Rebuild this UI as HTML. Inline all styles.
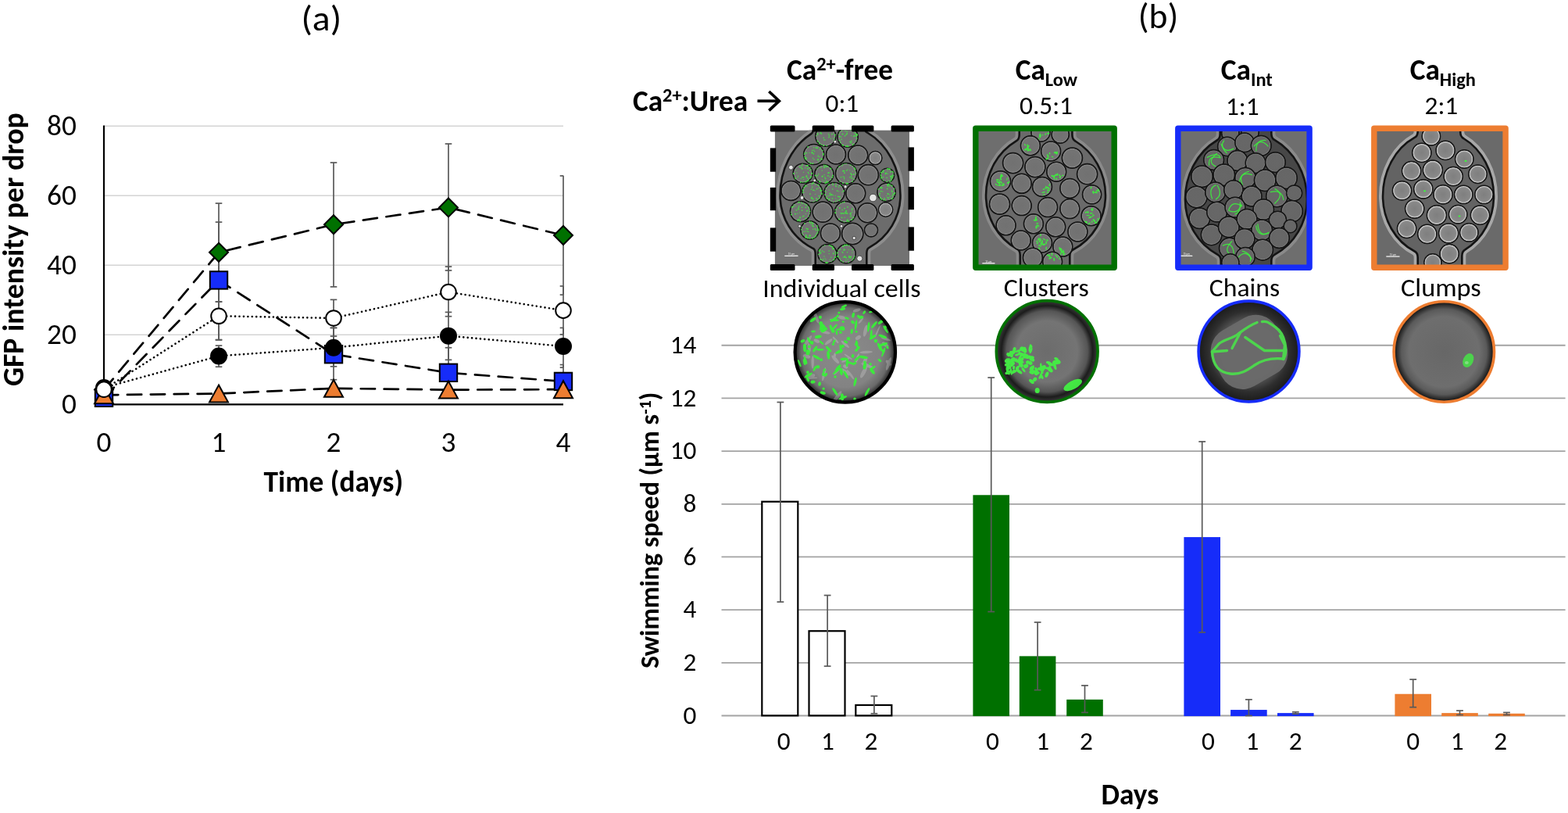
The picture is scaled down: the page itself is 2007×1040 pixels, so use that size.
<!DOCTYPE html><html><head><meta charset="utf-8"><title>Figure</title><style>html,body{margin:0;padding:0;background:#fff;width:2007px;height:1040px;overflow:hidden}svg{display:block}</style></head><body>
<svg width="2007" height="1040" viewBox="0 0 2007 1040" font-family="Carlito, 'Liberation Sans', sans-serif">
<rect width="2007" height="1040" fill="#fff"/>
<line x1="923.5" x2="2003.6" y1="915.5" y2="915.5" stroke="#a3a3a3" stroke-width="1.8"/>
<line x1="923.5" x2="2003.6" y1="847.82" y2="847.82" stroke="#a3a3a3" stroke-width="1.8"/>
<line x1="923.5" x2="2003.6" y1="780.14" y2="780.14" stroke="#a3a3a3" stroke-width="1.8"/>
<line x1="923.5" x2="2003.6" y1="712.46" y2="712.46" stroke="#a3a3a3" stroke-width="1.8"/>
<line x1="923.5" x2="2003.6" y1="644.78" y2="644.78" stroke="#a3a3a3" stroke-width="1.8"/>
<line x1="923.5" x2="2003.6" y1="577.1" y2="577.1" stroke="#a3a3a3" stroke-width="1.8"/>
<line x1="923.5" x2="2003.6" y1="509.42" y2="509.42" stroke="#a3a3a3" stroke-width="1.8"/>
<line x1="923.5" x2="2003.6" y1="441.74" y2="441.74" stroke="#a3a3a3" stroke-width="1.8"/>
<rect x="975.3" y="641.73" width="46" height="273.67" fill="#fff" stroke="#000" stroke-width="2.2"/>
<g stroke="#595959" stroke-width="1.7"><line x1="998.9" x2="998.9" y1="514.5" y2="769.99"/><line x1="994.5" x2="1003.3" y1="514.5" y2="514.5"/><line x1="994.5" x2="1003.3" y1="769.99" y2="769.99"/></g>
<text x="1003.3" y="959.4" font-size="33.3" text-anchor="middle" textLength="16.88" lengthAdjust="spacingAndGlyphs">0</text>
<rect x="1035.5" y="807.21" width="46" height="108.19" fill="#fff" stroke="#000" stroke-width="2.2"/>
<g stroke="#595959" stroke-width="1.7"><line x1="1059.1" x2="1059.1" y1="761.53" y2="852.22"/><line x1="1054.7" x2="1063.5" y1="761.53" y2="761.53"/><line x1="1054.7" x2="1063.5" y1="852.22" y2="852.22"/></g>
<text x="1059.5" y="959.4" font-size="33.3" text-anchor="middle" textLength="16.88" lengthAdjust="spacingAndGlyphs">1</text>
<rect x="1095.3" y="901.96" width="46" height="13.44" fill="#fff" stroke="#000" stroke-width="2.2"/>
<g stroke="#595959" stroke-width="1.7"><line x1="1118.9" x2="1118.9" y1="890.46" y2="912.79"/><line x1="1114.5" x2="1123.3" y1="890.46" y2="890.46"/><line x1="1114.5" x2="1123.3" y1="912.79" y2="912.79"/></g>
<text x="1115" y="959.4" font-size="33.3" text-anchor="middle" textLength="16.88" lengthAdjust="spacingAndGlyphs">2</text>
<rect x="1245.4" y="633.27" width="46.6" height="282.83" fill="#007000"/>
<g stroke="#595959" stroke-width="1.7"><line x1="1268.7" x2="1268.7" y1="483.02" y2="782.51"/><line x1="1264.3" x2="1273.1" y1="483.02" y2="483.02"/><line x1="1264.3" x2="1273.1" y1="782.51" y2="782.51"/></g>
<text x="1270.4" y="959.4" font-size="33.3" text-anchor="middle" textLength="16.88" lengthAdjust="spacingAndGlyphs">0</text>
<rect x="1304.8" y="839.36" width="46.6" height="76.74" fill="#007000"/>
<g stroke="#595959" stroke-width="1.7"><line x1="1328.1" x2="1328.1" y1="796.04" y2="882.68"/><line x1="1323.7" x2="1332.5" y1="796.04" y2="796.04"/><line x1="1323.7" x2="1332.5" y1="882.68" y2="882.68"/></g>
<text x="1334.6" y="959.4" font-size="33.3" text-anchor="middle" textLength="16.88" lengthAdjust="spacingAndGlyphs">1</text>
<rect x="1365.2" y="894.86" width="46.6" height="21.24" fill="#007000"/>
<g stroke="#595959" stroke-width="1.7"><line x1="1388.5" x2="1388.5" y1="876.92" y2="911.44"/><line x1="1384.1" x2="1392.9" y1="876.92" y2="876.92"/><line x1="1384.1" x2="1392.9" y1="911.44" y2="911.44"/></g>
<text x="1390.4" y="959.4" font-size="33.3" text-anchor="middle" textLength="16.88" lengthAdjust="spacingAndGlyphs">2</text>
<rect x="1515.4" y="687.08" width="46.6" height="229.02" fill="#162CF9"/>
<g stroke="#595959" stroke-width="1.7"><line x1="1538.7" x2="1538.7" y1="564.92" y2="808.9"/><line x1="1534.3" x2="1543.1" y1="564.92" y2="564.92"/><line x1="1534.3" x2="1543.1" y1="808.9" y2="808.9"/></g>
<text x="1546.4" y="959.4" font-size="33.3" text-anchor="middle" textLength="16.88" lengthAdjust="spacingAndGlyphs">0</text>
<rect x="1575.1" y="908.06" width="46.6" height="8.04" fill="#162CF9"/>
<g stroke="#595959" stroke-width="1.7"><line x1="1598.4" x2="1598.4" y1="894.86" y2="915.5"/><line x1="1594" x2="1602.8" y1="894.86" y2="894.86"/><line x1="1594" x2="1602.8" y1="915.5" y2="915.5"/></g>
<text x="1603" y="959.4" font-size="33.3" text-anchor="middle" textLength="16.88" lengthAdjust="spacingAndGlyphs">1</text>
<rect x="1635" y="912.12" width="46.6" height="3.98" fill="#162CF9"/>
<g stroke="#595959" stroke-width="1.7"><line x1="1658.3" x2="1658.3" y1="910.76" y2="913.13"/><line x1="1653.9" x2="1662.7" y1="910.76" y2="910.76"/><line x1="1653.9" x2="1662.7" y1="913.13" y2="913.13"/></g>
<text x="1658.3" y="959.4" font-size="33.3" text-anchor="middle" textLength="16.88" lengthAdjust="spacingAndGlyphs">2</text>
<rect x="1785.4" y="887.75" width="46.6" height="28.35" fill="#ED7D31"/>
<g stroke="#595959" stroke-width="1.7"><line x1="1808.7" x2="1808.7" y1="869.14" y2="904.67"/><line x1="1804.3" x2="1813.1" y1="869.14" y2="869.14"/><line x1="1804.3" x2="1813.1" y1="904.67" y2="904.67"/></g>
<text x="1808.6" y="959.4" font-size="33.3" text-anchor="middle" textLength="16.88" lengthAdjust="spacingAndGlyphs">0</text>
<rect x="1845.2" y="912.12" width="46.6" height="3.98" fill="#ED7D31"/>
<g stroke="#595959" stroke-width="1.7"><line x1="1868.5" x2="1868.5" y1="909.07" y2="914.48"/><line x1="1864.1" x2="1872.9" y1="909.07" y2="909.07"/><line x1="1864.1" x2="1872.9" y1="914.48" y2="914.48"/></g>
<text x="1865.1" y="959.4" font-size="33.3" text-anchor="middle" textLength="16.88" lengthAdjust="spacingAndGlyphs">1</text>
<rect x="1905.2" y="912.79" width="46.6" height="3.31" fill="#ED7D31"/>
<g stroke="#595959" stroke-width="1.7"><line x1="1928.5" x2="1928.5" y1="911.44" y2="914.48"/><line x1="1924.1" x2="1932.9" y1="911.44" y2="911.44"/><line x1="1924.1" x2="1932.9" y1="914.48" y2="914.48"/></g>
<text x="1920.7" y="959.4" font-size="33.3" text-anchor="middle" textLength="16.88" lengthAdjust="spacingAndGlyphs">2</text>
<text x="891.4" y="925.8" font-size="33.3" text-anchor="end" textLength="16.88" lengthAdjust="spacingAndGlyphs">0</text>
<text x="891.4" y="858.12" font-size="33.3" text-anchor="end" textLength="16.88" lengthAdjust="spacingAndGlyphs">2</text>
<text x="891.4" y="790.44" font-size="33.3" text-anchor="end" textLength="16.88" lengthAdjust="spacingAndGlyphs">4</text>
<text x="891.4" y="722.76" font-size="33.3" text-anchor="end" textLength="16.88" lengthAdjust="spacingAndGlyphs">6</text>
<text x="891.4" y="655.08" font-size="33.3" text-anchor="end" textLength="16.88" lengthAdjust="spacingAndGlyphs">8</text>
<text x="891.4" y="587.4" font-size="33.3" text-anchor="end" textLength="33.76" lengthAdjust="spacingAndGlyphs">10</text>
<text x="891.4" y="519.72" font-size="33.3" text-anchor="end" textLength="33.76" lengthAdjust="spacingAndGlyphs">12</text>
<text x="891.4" y="452.04" font-size="33.3" text-anchor="end" textLength="33.76" lengthAdjust="spacingAndGlyphs">14</text>
<text x="1409.6" y="1029" font-size="37.3" font-weight="bold" textLength="73.56" lengthAdjust="spacingAndGlyphs">Days</text>
<text transform="translate(842.9,854.9) rotate(-90)" font-size="33.9" font-weight="bold" textLength="324.83" lengthAdjust="spacingAndGlyphs">Swimming speed (µm s</text>
<text transform="translate(832.9,530.07) rotate(-90)" font-size="22" font-weight="bold" textLength="17.89" lengthAdjust="spacingAndGlyphs">-1</text>
<text transform="translate(842.9,512.18) rotate(-90)" font-size="33.9" font-weight="bold" textLength="10.56" lengthAdjust="spacingAndGlyphs">)</text>
<text x="1456.8" y="35.6" font-size="44.6" textLength="51.5" lengthAdjust="spacingAndGlyphs">(b)</text>
<line x1="133" x2="721" y1="428.3" y2="428.3" stroke="#d4d4d4" stroke-width="1.6"/>
<line x1="133" x2="721" y1="339.3" y2="339.3" stroke="#d4d4d4" stroke-width="1.6"/>
<line x1="133" x2="721" y1="250.3" y2="250.3" stroke="#d4d4d4" stroke-width="1.6"/>
<line x1="133" x2="721" y1="161.3" y2="161.3" stroke="#d4d4d4" stroke-width="1.6"/>
<line x1="133" x2="133" y1="160.5" y2="517.3" stroke="#000" stroke-width="2.2"/>
<line x1="132" x2="721" y1="517.3" y2="517.3" stroke="#000" stroke-width="2.2"/>
<g stroke="#595959" stroke-width="1.7" fill="none">
<line x1="280" x2="280" y1="260.09" y2="386.02"/>
<line x1="275.7" x2="284.3" y1="386.02" y2="386.02"/>
<line x1="275.7" x2="284.3" y1="260.09" y2="260.09"/>
<line x1="280" x2="280" y1="284.12" y2="434.53"/>
<line x1="275.7" x2="284.3" y1="434.53" y2="434.53"/>
<line x1="275.7" x2="284.3" y1="284.12" y2="284.12"/>
<line x1="280" x2="280" y1="386.02" y2="434.97"/>
<line x1="275.7" x2="284.3" y1="434.97" y2="434.97"/>
<line x1="275.7" x2="284.3" y1="386.02" y2="386.02"/>
<line x1="280" x2="280" y1="442.09" y2="469.24"/>
<line x1="275.7" x2="284.3" y1="469.24" y2="469.24"/>
<line x1="275.7" x2="284.3" y1="442.09" y2="442.09"/>
<line x1="427" x2="427" y1="208.02" y2="366.89"/>
<line x1="422.7" x2="431.3" y1="366.89" y2="366.89"/>
<line x1="422.7" x2="431.3" y1="208.02" y2="208.02"/>
<line x1="427" x2="427" y1="383.35" y2="430.08"/>
<line x1="422.7" x2="431.3" y1="430.08" y2="430.08"/>
<line x1="422.7" x2="431.3" y1="383.35" y2="383.35"/>
<line x1="427" x2="427" y1="419.4" y2="468.79"/>
<line x1="422.7" x2="431.3" y1="468.79" y2="468.79"/>
<line x1="422.7" x2="431.3" y1="419.4" y2="419.4"/>
<line x1="427" x2="427" y1="419.4" y2="485.7"/>
<line x1="422.7" x2="431.3" y1="485.7" y2="485.7"/>
<line x1="422.7" x2="431.3" y1="419.4" y2="419.4"/>
<line x1="574" x2="574" y1="183.99" y2="345.97"/>
<line x1="569.7" x2="578.3" y1="345.97" y2="345.97"/>
<line x1="569.7" x2="578.3" y1="183.99" y2="183.99"/>
<line x1="574" x2="574" y1="341.08" y2="404.71"/>
<line x1="569.7" x2="578.3" y1="404.71" y2="404.71"/>
<line x1="569.7" x2="578.3" y1="341.08" y2="341.08"/>
<line x1="574" x2="574" y1="399.37" y2="460.34"/>
<line x1="569.7" x2="578.3" y1="460.34" y2="460.34"/>
<line x1="569.7" x2="578.3" y1="399.37" y2="399.37"/>
<line x1="574" x2="574" y1="444.76" y2="503.95"/>
<line x1="569.7" x2="578.3" y1="503.95" y2="503.95"/>
<line x1="569.7" x2="578.3" y1="444.76" y2="444.76"/>
<line x1="721" x2="721" y1="224.93" y2="377.12"/>
<line x1="716.7" x2="721.3" y1="377.12" y2="377.12"/>
<line x1="716.7" x2="721.3" y1="224.93" y2="224.93"/>
<line x1="721" x2="721" y1="366" y2="427.85"/>
<line x1="716.7" x2="721.3" y1="427.85" y2="427.85"/>
<line x1="716.7" x2="721.3" y1="366" y2="366"/>
<line x1="721" x2="721" y1="419.4" y2="470.13"/>
<line x1="716.7" x2="721.3" y1="470.13" y2="470.13"/>
<line x1="716.7" x2="721.3" y1="419.4" y2="419.4"/>
<line x1="721" x2="721" y1="466.57" y2="508.4"/>
<line x1="716.7" x2="721.3" y1="508.4" y2="508.4"/>
<line x1="716.7" x2="721.3" y1="466.57" y2="466.57"/>
</g>
<polyline points="133,498.61 280,322.83 427,287.23 574,265.43 721,301.03" fill="none" stroke="#000" stroke-width="2.7" stroke-dasharray="18.3 11.6" stroke-linecap="round"/>
<polyline points="133,508.84 280,358.43 427,453.22 574,476.8 721,487.93" fill="none" stroke="#000" stroke-width="2.7" stroke-dasharray="18.3 11.6" stroke-linecap="round"/>
<polyline points="133,505.28 280,503.5 427,496.83 574,498.61 721,498.16" fill="none" stroke="#000" stroke-width="2.7" stroke-dasharray="18.3 11.6" stroke-linecap="round"/>
<polyline points="133,495.94 280,455.44 427,444.76 574,429.63 721,442.98" fill="none" stroke="#000" stroke-width="2.6" stroke-dasharray="0.01 5.42" stroke-linecap="round"/>
<polyline points="133,498.16 280,404.27 427,406.94 574,373.56 721,397.15" fill="none" stroke="#000" stroke-width="2.6" stroke-dasharray="0.01 5.42" stroke-linecap="round"/>
<g stroke="#000" stroke-width="2" stroke-linejoin="miter">
<polygon points="133,486.61 145,498.61 133,510.61 121,498.61" fill="#007000"/>
<polygon points="280,310.83 292,322.83 280,334.83 268,322.83" fill="#007000"/>
<polygon points="427,275.23 439,287.23 427,299.23 415,287.23" fill="#007000"/>
<polygon points="574,253.43 586,265.43 574,277.43 562,265.43" fill="#007000"/>
<polygon points="721,289.03 733,301.03 721,313.03 709,301.03" fill="#007000"/>
<rect x="121.8" y="497.64" width="22.4" height="22.4" fill="#162CF9"/>
<rect x="268.8" y="347.23" width="22.4" height="22.4" fill="#162CF9"/>
<rect x="415.8" y="442.02" width="22.4" height="22.4" fill="#162CF9"/>
<rect x="562.8" y="465.6" width="22.4" height="22.4" fill="#162CF9"/>
<rect x="709.8" y="476.73" width="22.4" height="22.4" fill="#162CF9"/>
<polygon points="133,494.28 145,516.28 121,516.28" fill="#ED7D31"/>
<polygon points="280,492.5 292,514.5 268,514.5" fill="#ED7D31"/>
<polygon points="427,485.83 439,507.83 415,507.83" fill="#ED7D31"/>
<polygon points="574,487.61 586,509.61 562,509.61" fill="#ED7D31"/>
<polygon points="721,487.16 733,509.16 709,509.16" fill="#ED7D31"/>
<circle cx="133" cy="495.94" r="10" fill="#000"/>
<circle cx="280" cy="455.44" r="10" fill="#000"/>
<circle cx="427" cy="444.76" r="10" fill="#000"/>
<circle cx="574" cy="429.63" r="10" fill="#000"/>
<circle cx="721" cy="442.98" r="10" fill="#000"/>
<circle cx="133" cy="498.16" r="9.8" fill="#fff"/>
<circle cx="280" cy="404.27" r="9.8" fill="#fff"/>
<circle cx="427" cy="406.94" r="9.8" fill="#fff"/>
<circle cx="574" cy="373.56" r="9.8" fill="#fff"/>
<circle cx="721" cy="397.15" r="9.8" fill="#fff"/>
</g>
<text x="97.9" y="529.2" font-size="37.3" text-anchor="end" textLength="18.91" lengthAdjust="spacingAndGlyphs">0</text>
<text x="97.9" y="440.2" font-size="37.3" text-anchor="end" textLength="37.81" lengthAdjust="spacingAndGlyphs">20</text>
<text x="97.9" y="351.2" font-size="37.3" text-anchor="end" textLength="37.81" lengthAdjust="spacingAndGlyphs">40</text>
<text x="97.9" y="262.2" font-size="37.3" text-anchor="end" textLength="37.81" lengthAdjust="spacingAndGlyphs">60</text>
<text x="97.9" y="173.2" font-size="37.3" text-anchor="end" textLength="37.81" lengthAdjust="spacingAndGlyphs">80</text>
<text x="133" y="577.8" font-size="37.3" text-anchor="middle" textLength="18.91" lengthAdjust="spacingAndGlyphs">0</text>
<text x="280" y="577.8" font-size="37.3" text-anchor="middle" textLength="18.91" lengthAdjust="spacingAndGlyphs">1</text>
<text x="427" y="577.8" font-size="37.3" text-anchor="middle" textLength="18.91" lengthAdjust="spacingAndGlyphs">2</text>
<text x="574" y="577.8" font-size="37.3" text-anchor="middle" textLength="18.91" lengthAdjust="spacingAndGlyphs">3</text>
<text x="721" y="577.8" font-size="37.3" text-anchor="middle" textLength="18.91" lengthAdjust="spacingAndGlyphs">4</text>
<text x="337.6" y="629.3" font-size="37.3" font-weight="bold" textLength="178.49" lengthAdjust="spacingAndGlyphs">Time (days)</text>
<text transform="translate(29.6,494) rotate(-90)" font-size="37.3" font-weight="bold" textLength="349.8" lengthAdjust="spacingAndGlyphs">GFP intensity per drop</text>
<text x="385.4" y="38.8" font-size="44.6" textLength="51.7" lengthAdjust="spacingAndGlyphs">(a)</text>
<defs><radialGradient id="dg"><stop offset="0" stop-color="#717171"/><stop offset="0.8" stop-color="#747474"/><stop offset="0.9" stop-color="#8a8a8a"/><stop offset="0.96" stop-color="#3a3a3a"/><stop offset="1" stop-color="#161616"/></radialGradient><radialGradient id="dg3"><stop offset="0" stop-color="#676767"/><stop offset="0.82" stop-color="#666"/><stop offset="0.91" stop-color="#7a7a7a"/><stop offset="0.97" stop-color="#2e2e2e"/><stop offset="1" stop-color="#141414"/></radialGradient><radialGradient id="dg4"><stop offset="0" stop-color="#7f7f7f"/><stop offset="0.75" stop-color="#898989"/><stop offset="0.86" stop-color="#bdbdbd"/><stop offset="0.93" stop-color="#d2d2d2"/><stop offset="0.97" stop-color="#3a3a3a"/><stop offset="1" stop-color="#111"/></radialGradient></defs>
<clipPath id="clip_i1"><rect x="991.7" y="166.4" width="172.3" height="173.6"/></clipPath>
<g clip-path="url(#clip_i1)">
<rect x="991.7" y="166.4" width="172.3" height="173.6" fill="#727272"/>
<path d="M1041,164.9 L1041,164.9 Q1041,169.5 1038,171.4 A77,90 0 0 0 998.5,250 A77,76 0 0 0 1040.7,317.8 Q1043.7,319.2 1043.7,325.2 L1043.7,341.5 L1109.3,341.5 L1109.3,324.3 Q1109.3,318.3 1112.3,316.8 A77,76 0 0 0 1152.5,250 A77,90 0 0 0 1110,169.5 Q1107,167.9 1107,164.9 L1107,164.9 Z" fill="#6c6c6c" stroke="#8e8e8e" stroke-width="10"/>
<path d="M1041,164.9 L1041,164.9 Q1041,169.5 1038,171.4 A77,90 0 0 0 998.5,250 A77,76 0 0 0 1040.7,317.8 Q1043.7,319.2 1043.7,325.2 L1043.7,341.5 L1109.3,341.5 L1109.3,324.3 Q1109.3,318.3 1112.3,316.8 A77,76 0 0 0 1152.5,250 A77,90 0 0 0 1110,169.5 Q1107,167.9 1107,164.9 L1107,164.9 Z" fill="#6c6c6c" stroke="#141414" stroke-width="2.6"/>
<circle cx="1056.8" cy="174.2" r="13.1" fill="url(#dg)" stroke="#141414" stroke-width="1.5"/>
<g fill="#3df03d" opacity="0.9"><circle cx="1051.4" cy="185.1" r="0.8"/><circle cx="1063.3" cy="177.4" r="0.6"/><circle cx="1044.6" cy="173.7" r="0.7"/><circle cx="1067.9" cy="179.4" r="0.7"/><circle cx="1062.5" cy="163.4" r="0.7"/><circle cx="1050.6" cy="167.8" r="0.7"/><circle cx="1068.9" cy="172.4" r="0.9"/><circle cx="1053.8" cy="186.1" r="0.6"/><circle cx="1055" cy="178.9" r="0.8"/><circle cx="1049" cy="164.9" r="0.8"/><circle cx="1068.1" cy="178.9" r="0.6"/><circle cx="1051.7" cy="163.2" r="0.7"/><circle cx="1051.3" cy="170.9" r="0.9"/><circle cx="1053" cy="162.6" r="0.8"/><circle cx="1046.9" cy="172.6" r="0.7"/><circle cx="1068.9" cy="172.7" r="0.7"/><circle cx="1057.4" cy="162" r="0.8"/><circle cx="1066.9" cy="176.8" r="0.8"/><circle cx="1065.5" cy="165.6" r="0.9"/><circle cx="1050.2" cy="169.8" r="0.9"/><circle cx="1065.9" cy="171" r="0.6"/><circle cx="1053.3" cy="163" r="0.9"/><circle cx="1054.2" cy="186.2" r="0.9"/><circle cx="1061.6" cy="174.9" r="0.6"/><circle cx="1060.8" cy="175.8" r="0.7"/><circle cx="1054.2" cy="176.4" r="0.8"/><circle cx="1046.7" cy="171" r="0.9"/><circle cx="1054.7" cy="186.2" r="0.7"/><circle cx="1060.3" cy="171.2" r="0.6"/><circle cx="1058.2" cy="186.4" r="0.8"/><circle cx="1046.5" cy="167.7" r="0.6"/><circle cx="1046.2" cy="180.2" r="0.8"/><circle cx="1064.9" cy="171.8" r="0.8"/><circle cx="1051.4" cy="163.3" r="1"/><circle cx="1058.8" cy="163.9" r="0.7"/><circle cx="1047" cy="181.5" r="0.8"/><circle cx="1068.1" cy="178.9" r="0.6"/><circle cx="1063.2" cy="184.6" r="0.6"/><circle cx="1069" cy="174.3" r="0.6"/><circle cx="1048.8" cy="183.5" r="0.9"/><circle cx="1047.6" cy="166.2" r="0.7"/><circle cx="1049.8" cy="184.2" r="0.6"/><circle cx="1061.5" cy="167.7" r="0.8"/><circle cx="1067.3" cy="180.5" r="0.7"/><circle cx="1056.4" cy="179" r="0.6"/><circle cx="1061.1" cy="172.9" r="0.8"/></g>
<circle cx="1085.1" cy="175.2" r="13.1" fill="url(#dg)" stroke="#141414" stroke-width="1.5"/>
<g fill="#3df03d" opacity="0.9"><circle cx="1096.6" cy="177.2" r="0.9"/><circle cx="1081.1" cy="163.7" r="0.7"/><circle cx="1089.4" cy="182.7" r="0.9"/><circle cx="1079.2" cy="186" r="0.9"/><circle cx="1095.7" cy="174.2" r="0.9"/><circle cx="1084.3" cy="163.1" r="0.8"/><circle cx="1077.6" cy="184.9" r="0.6"/><circle cx="1082.9" cy="187.2" r="0.9"/><circle cx="1096.9" cy="171.9" r="1"/><circle cx="1092.2" cy="174.7" r="0.6"/><circle cx="1086.9" cy="187.3" r="0.6"/><circle cx="1077.4" cy="167.6" r="0.8"/><circle cx="1083.1" cy="172.4" r="0.8"/><circle cx="1093.7" cy="169.7" r="0.8"/><circle cx="1088.1" cy="181.4" r="0.9"/><circle cx="1097.1" cy="173.1" r="0.7"/><circle cx="1089.7" cy="173.6" r="0.6"/><circle cx="1091.3" cy="183.9" r="0.6"/><circle cx="1089.5" cy="166.8" r="0.7"/><circle cx="1073.5" cy="171.6" r="0.6"/><circle cx="1093.5" cy="173.7" r="1"/><circle cx="1075.3" cy="179.6" r="0.6"/><circle cx="1085" cy="187.4" r="0.7"/><circle cx="1074.7" cy="168.9" r="0.7"/><circle cx="1089.9" cy="180.4" r="0.8"/><circle cx="1078.5" cy="171.4" r="1"/><circle cx="1076.6" cy="175.2" r="0.6"/><circle cx="1073.8" cy="179.7" r="0.6"/><circle cx="1088.8" cy="163.6" r="0.8"/><circle cx="1084.1" cy="168.6" r="0.8"/><circle cx="1081.5" cy="173.9" r="0.8"/><circle cx="1085.2" cy="187.4" r="0.9"/><circle cx="1074.8" cy="174.7" r="1"/><circle cx="1077.2" cy="178.2" r="0.8"/><circle cx="1082.1" cy="167.2" r="0.8"/><circle cx="1095.4" cy="171.3" r="1"/><circle cx="1084.4" cy="186.7" r="0.9"/><circle cx="1093.1" cy="184.5" r="0.7"/><circle cx="1096.1" cy="180.6" r="0.6"/><circle cx="1079.7" cy="165.5" r="0.6"/><circle cx="1084.2" cy="170.9" r="0.9"/><circle cx="1097.1" cy="172.8" r="1"/><circle cx="1075.7" cy="182.3" r="0.9"/><circle cx="1091.6" cy="185.6" r="0.8"/><circle cx="1078.6" cy="185.6" r="0.7"/><circle cx="1083" cy="163.2" r="0.8"/></g>
<circle cx="1041.7" cy="197.5" r="13.1" fill="url(#dg)" stroke="#141414" stroke-width="1.5"/>
<g fill="#3df03d" opacity="0.9"><circle cx="1030.3" cy="201.9" r="0.7"/><circle cx="1039.6" cy="195.4" r="1"/><circle cx="1042.6" cy="193.7" r="0.7"/><circle cx="1047.6" cy="199" r="0.6"/><circle cx="1032.2" cy="202.5" r="0.7"/><circle cx="1047" cy="204.7" r="0.9"/><circle cx="1052" cy="204" r="0.9"/><circle cx="1030.8" cy="203" r="1"/><circle cx="1039.4" cy="194.9" r="0.9"/><circle cx="1049" cy="200.7" r="0.7"/><circle cx="1035.9" cy="195.5" r="0.6"/><circle cx="1029.7" cy="195.4" r="0.6"/><circle cx="1048.1" cy="207.8" r="0.6"/><circle cx="1037.1" cy="208.7" r="0.9"/><circle cx="1040.5" cy="202.3" r="0.7"/><circle cx="1053.8" cy="198.8" r="0.6"/><circle cx="1041.1" cy="192.3" r="0.8"/><circle cx="1052.9" cy="192.6" r="0.9"/><circle cx="1031.9" cy="201.9" r="0.7"/><circle cx="1030" cy="197" r="0.7"/><circle cx="1046.3" cy="189.3" r="0.7"/><circle cx="1034.7" cy="207.4" r="0.6"/><circle cx="1047.1" cy="200" r="0.6"/><circle cx="1051.2" cy="203" r="0.9"/><circle cx="1039.3" cy="209.4" r="0.7"/><circle cx="1029.9" cy="200.5" r="0.8"/><circle cx="1040.7" cy="209.1" r="0.8"/><circle cx="1041.9" cy="204" r="0.7"/><circle cx="1053.9" cy="197.5" r="0.8"/><circle cx="1029.5" cy="197.2" r="0.8"/><circle cx="1053.9" cy="197.8" r="0.6"/><circle cx="1031.8" cy="204.7" r="0.6"/><circle cx="1037.6" cy="209" r="0.8"/><circle cx="1032.3" cy="195.7" r="0.9"/><circle cx="1050.5" cy="189" r="0.7"/><circle cx="1053.8" cy="196.3" r="0.9"/><circle cx="1034.1" cy="187.9" r="0.9"/><circle cx="1049.6" cy="191.1" r="0.9"/><circle cx="1047.1" cy="203.9" r="0.9"/><circle cx="1044.7" cy="189" r="1"/><circle cx="1039.4" cy="192.3" r="0.6"/><circle cx="1049.9" cy="206.5" r="0.6"/><circle cx="1046.5" cy="189.4" r="0.8"/><circle cx="1041.4" cy="196.8" r="0.9"/><circle cx="1041.6" cy="188.8" r="0.8"/><circle cx="1047.1" cy="199.8" r="0.6"/></g>
<circle cx="1070" cy="197.5" r="12.5" fill="url(#dg)" stroke="#141414" stroke-width="1.5"/>
<circle cx="1098.2" cy="198.5" r="12.5" fill="url(#dg)" stroke="#141414" stroke-width="1.5"/>
<circle cx="1120.4" cy="202.1" r="8.5" fill="url(#dg4)" stroke="#141414" stroke-width="1.5"/>
<circle cx="1027.6" cy="221.7" r="12.5" fill="url(#dg)" stroke="#141414" stroke-width="1.5"/>
<g fill="#3df03d" opacity="0.9"><circle cx="1027.1" cy="226.8" r="0.9"/><circle cx="1034.4" cy="220.6" r="0.8"/><circle cx="1024" cy="213.6" r="0.8"/><circle cx="1037.8" cy="227.1" r="0.7"/><circle cx="1027.1" cy="210.1" r="0.8"/><circle cx="1039.2" cy="222.6" r="0.7"/><circle cx="1023.2" cy="213.5" r="0.7"/><circle cx="1019.9" cy="220.9" r="0.6"/><circle cx="1036.7" cy="214.5" r="1"/><circle cx="1038.3" cy="217.1" r="0.8"/><circle cx="1030.8" cy="214.9" r="0.7"/><circle cx="1028.8" cy="226.7" r="0.8"/><circle cx="1034.5" cy="230.2" r="0.6"/><circle cx="1032.1" cy="212.1" r="0.9"/><circle cx="1028.5" cy="229.5" r="0.6"/><circle cx="1035.1" cy="221.9" r="0.7"/><circle cx="1034.9" cy="230.7" r="0.7"/><circle cx="1033.8" cy="211.9" r="0.9"/><circle cx="1033.7" cy="211.8" r="1"/><circle cx="1026.2" cy="215.8" r="0.7"/><circle cx="1020.8" cy="227.1" r="0.7"/><circle cx="1017.1" cy="226.8" r="0.6"/><circle cx="1032.4" cy="225.3" r="1"/><circle cx="1027.6" cy="233.3" r="0.8"/><circle cx="1031.8" cy="232.5" r="1"/><circle cx="1034.2" cy="215.7" r="1"/><circle cx="1036.5" cy="218.2" r="0.6"/><circle cx="1026.5" cy="212" r="0.8"/><circle cx="1024.9" cy="233" r="1"/><circle cx="1032.2" cy="226.4" r="0.7"/><circle cx="1027.2" cy="216" r="0.8"/><circle cx="1025.3" cy="228.4" r="0.6"/><circle cx="1033.7" cy="231.6" r="1"/><circle cx="1015.9" cy="221.9" r="1"/><circle cx="1039.2" cy="221.4" r="0.6"/><circle cx="1031.7" cy="232.6" r="0.7"/><circle cx="1037.3" cy="228" r="0.7"/><circle cx="1018.7" cy="217.6" r="0.7"/><circle cx="1021.6" cy="225.3" r="0.7"/><circle cx="1038.3" cy="226.1" r="1"/><circle cx="1033.8" cy="228" r="0.9"/><circle cx="1030" cy="233.1" r="0.7"/><circle cx="1018.1" cy="228.5" r="1"/><circle cx="1028.5" cy="220.3" r="0.6"/><circle cx="1025.6" cy="214.2" r="0.8"/><circle cx="1039.2" cy="221.7" r="1"/></g>
<circle cx="1054.8" cy="222.7" r="12.1" fill="url(#dg)" stroke="#141414" stroke-width="1.5"/>
<g fill="#3df03d" opacity="0.9"><circle cx="1059.7" cy="213.1" r="0.7"/><circle cx="1063.5" cy="229.8" r="0.8"/><circle cx="1051" cy="214.3" r="0.8"/><circle cx="1055.6" cy="214.6" r="0.6"/><circle cx="1057.1" cy="211.7" r="1"/><circle cx="1047.9" cy="213.8" r="0.6"/><circle cx="1054.7" cy="231.8" r="0.6"/><circle cx="1062.3" cy="226.3" r="0.7"/><circle cx="1055" cy="223.8" r="0.7"/><circle cx="1046.3" cy="224.8" r="0.9"/><circle cx="1043.7" cy="224.4" r="0.7"/><circle cx="1060.7" cy="221.2" r="0.6"/><circle cx="1047.7" cy="222.8" r="0.7"/><circle cx="1052.2" cy="218.2" r="0.6"/><circle cx="1048.9" cy="232.3" r="0.9"/><circle cx="1057.8" cy="231.6" r="0.8"/><circle cx="1056.5" cy="228.5" r="0.9"/><circle cx="1056.2" cy="233.9" r="0.9"/><circle cx="1052.7" cy="230.1" r="0.6"/><circle cx="1056.7" cy="233.8" r="0.8"/><circle cx="1065.5" cy="219.1" r="0.7"/><circle cx="1055.8" cy="226.7" r="0.6"/><circle cx="1065.3" cy="226.9" r="1"/><circle cx="1062.9" cy="215.4" r="1"/><circle cx="1049.4" cy="232.6" r="1"/><circle cx="1054.6" cy="211.4" r="0.8"/><circle cx="1046.7" cy="230.5" r="0.7"/><circle cx="1060.3" cy="232.5" r="0.7"/><circle cx="1052.5" cy="225.8" r="1"/><circle cx="1057.8" cy="233.6" r="0.9"/><circle cx="1059.7" cy="212.6" r="0.6"/><circle cx="1043.7" cy="224.6" r="1"/><circle cx="1058.8" cy="233.3" r="1"/><circle cx="1065.9" cy="224.8" r="0.9"/><circle cx="1056" cy="211.5" r="0.6"/><circle cx="1059.9" cy="224.8" r="0.9"/><circle cx="1063.9" cy="216" r="0.7"/><circle cx="1060.2" cy="221.2" r="0.9"/><circle cx="1050.2" cy="233" r="0.6"/><circle cx="1055.1" cy="214" r="1"/><circle cx="1066" cy="224.4" r="0.8"/><circle cx="1061.3" cy="220.9" r="0.7"/><circle cx="1045.3" cy="227.2" r="0.6"/><circle cx="1058" cy="213.3" r="0.9"/><circle cx="1046" cy="215.7" r="0.7"/><circle cx="1052.8" cy="225" r="0.6"/></g>
<circle cx="1083.1" cy="222.1" r="13.7" fill="url(#dg)" stroke="#141414" stroke-width="1.5"/>
<g fill="#3df03d" opacity="0.9"><circle cx="1083.3" cy="209.3" r="0.6"/><circle cx="1090" cy="223.6" r="1"/><circle cx="1087.8" cy="217.8" r="0.6"/><circle cx="1091.6" cy="228" r="0.8"/><circle cx="1084.4" cy="234.8" r="0.8"/><circle cx="1077.9" cy="212" r="0.8"/><circle cx="1087.9" cy="226.7" r="0.8"/><circle cx="1079.2" cy="226" r="0.7"/><circle cx="1083.5" cy="234.9" r="0.9"/><circle cx="1071.8" cy="216.1" r="0.7"/><circle cx="1089" cy="221.8" r="0.9"/><circle cx="1080.8" cy="218.8" r="0.8"/><circle cx="1088.1" cy="211.4" r="0.6"/><circle cx="1079.6" cy="234.4" r="0.6"/><circle cx="1094.8" cy="220.1" r="0.7"/><circle cx="1091.6" cy="212.6" r="0.7"/><circle cx="1083.8" cy="218.1" r="0.8"/><circle cx="1073.8" cy="213.4" r="0.7"/><circle cx="1091.1" cy="232" r="0.7"/><circle cx="1078.6" cy="218.8" r="0.6"/><circle cx="1080.6" cy="226.8" r="0.7"/><circle cx="1085.7" cy="230.9" r="0.6"/><circle cx="1093.4" cy="229.7" r="0.8"/><circle cx="1074.9" cy="212.3" r="0.6"/><circle cx="1078.8" cy="210.1" r="0.7"/><circle cx="1080.6" cy="228.6" r="0.8"/><circle cx="1075.1" cy="232.1" r="0.9"/><circle cx="1095.9" cy="221.8" r="0.6"/><circle cx="1081.3" cy="209.4" r="0.6"/><circle cx="1093.5" cy="214.7" r="0.9"/><circle cx="1076.1" cy="226.8" r="0.6"/><circle cx="1092.9" cy="223" r="1"/><circle cx="1089.5" cy="226.1" r="0.8"/><circle cx="1090.9" cy="232.2" r="0.8"/><circle cx="1094.5" cy="216.3" r="0.8"/><circle cx="1084.9" cy="216.9" r="0.6"/><circle cx="1091.1" cy="219.1" r="0.6"/><circle cx="1094.5" cy="216.4" r="1"/><circle cx="1079.5" cy="218.7" r="0.9"/><circle cx="1085.3" cy="234.7" r="0.9"/><circle cx="1089.2" cy="210.9" r="0.6"/><circle cx="1076.9" cy="226.6" r="0.6"/><circle cx="1083.3" cy="233.8" r="0.6"/><circle cx="1080.9" cy="221.2" r="0.9"/><circle cx="1089.9" cy="228.3" r="0.8"/><circle cx="1078.7" cy="234.1" r="0.8"/></g>
<circle cx="1111.4" cy="223.7" r="13.1" fill="url(#dg)" stroke="#141414" stroke-width="1.5"/>
<circle cx="1135.6" cy="224.3" r="9.1" fill="url(#dg)" stroke="#141414" stroke-width="1.5"/>
<g fill="#3df03d" opacity="0.9"><circle cx="1130.7" cy="226.8" r="0.7"/><circle cx="1141.3" cy="225.2" r="0.7"/><circle cx="1136.1" cy="218.8" r="0.6"/><circle cx="1127.3" cy="225.7" r="0.6"/><circle cx="1127.9" cy="227.9" r="0.7"/><circle cx="1127.2" cy="223.8" r="0.8"/><circle cx="1141.9" cy="227.9" r="0.8"/><circle cx="1140.3" cy="226" r="1"/><circle cx="1140.9" cy="230.5" r="0.9"/><circle cx="1138.9" cy="216.6" r="1"/><circle cx="1127.8" cy="224.7" r="0.6"/><circle cx="1136.1" cy="222.3" r="0.7"/><circle cx="1135.9" cy="215.9" r="1"/><circle cx="1135.1" cy="227.4" r="0.8"/><circle cx="1143" cy="220.2" r="0.7"/><circle cx="1127.1" cy="224" r="0.6"/><circle cx="1139.1" cy="232" r="1"/><circle cx="1134.2" cy="221.3" r="0.9"/><circle cx="1140.5" cy="228.6" r="0.7"/><circle cx="1139.9" cy="219.9" r="0.9"/><circle cx="1140.7" cy="228.3" r="0.7"/><circle cx="1138.1" cy="216.2" r="1"/><circle cx="1128.1" cy="220.4" r="0.9"/><circle cx="1127.7" cy="227.3" r="0.9"/><circle cx="1139.5" cy="225.5" r="0.8"/><circle cx="1142.2" cy="223.6" r="0.7"/><circle cx="1144" cy="224.4" r="0.6"/><circle cx="1129.3" cy="218.7" r="0.8"/><circle cx="1142.3" cy="219.2" r="0.7"/><circle cx="1130.8" cy="217.4" r="0.6"/><circle cx="1130.4" cy="231" r="0.7"/><circle cx="1136.6" cy="230.5" r="0.6"/><circle cx="1133.5" cy="222.2" r="1"/><circle cx="1135.9" cy="232.8" r="0.6"/><circle cx="1130.9" cy="218.8" r="0.7"/><circle cx="1134.8" cy="232.7" r="0.8"/><circle cx="1127.8" cy="221.1" r="0.8"/><circle cx="1129" cy="226.7" r="0.7"/><circle cx="1142.5" cy="219.5" r="0.8"/><circle cx="1128.6" cy="229" r="0.6"/><circle cx="1137.1" cy="216" r="0.8"/><circle cx="1143.5" cy="221.2" r="0.6"/><circle cx="1130.5" cy="220.2" r="0.9"/><circle cx="1139.4" cy="231.8" r="0.7"/><circle cx="1142.5" cy="226.5" r="0.9"/><circle cx="1142.6" cy="224.6" r="0.8"/></g>
<circle cx="1012.4" cy="243.9" r="12.5" fill="url(#dg)" stroke="#141414" stroke-width="1.5"/>
<circle cx="1039.7" cy="245.9" r="13.1" fill="url(#dg)" stroke="#141414" stroke-width="1.5"/>
<g fill="#3df03d" opacity="0.9"><circle cx="1039.4" cy="240.3" r="0.6"/><circle cx="1041" cy="258.1" r="0.7"/><circle cx="1039.6" cy="235.1" r="0.9"/><circle cx="1038.9" cy="253.7" r="0.9"/><circle cx="1027.6" cy="244.1" r="0.8"/><circle cx="1051.6" cy="243.3" r="0.9"/><circle cx="1051.8" cy="247.1" r="0.7"/><circle cx="1039.3" cy="235.7" r="0.7"/><circle cx="1048.6" cy="237.6" r="0.7"/><circle cx="1047.9" cy="240.5" r="0.8"/><circle cx="1050.4" cy="244.5" r="0.9"/><circle cx="1047.3" cy="236.4" r="0.9"/><circle cx="1028.6" cy="240.7" r="0.6"/><circle cx="1030.9" cy="237.4" r="1"/><circle cx="1047.2" cy="255.5" r="0.6"/><circle cx="1050.7" cy="240.7" r="0.6"/><circle cx="1051.7" cy="248.1" r="0.9"/><circle cx="1032.9" cy="238.4" r="0.6"/><circle cx="1029.4" cy="239.3" r="0.9"/><circle cx="1041" cy="243.2" r="0.9"/><circle cx="1043" cy="243.9" r="0.6"/><circle cx="1049" cy="253.8" r="0.9"/><circle cx="1043.7" cy="236" r="0.8"/><circle cx="1036.8" cy="257.8" r="0.6"/><circle cx="1040.2" cy="233.7" r="0.7"/><circle cx="1028.8" cy="251.5" r="0.7"/><circle cx="1038.2" cy="252.9" r="0.7"/><circle cx="1050.3" cy="243.5" r="0.8"/><circle cx="1051.6" cy="248.3" r="0.7"/><circle cx="1041.4" cy="233.8" r="0.9"/><circle cx="1027.8" cy="243" r="0.9"/><circle cx="1043.8" cy="248.6" r="0.6"/><circle cx="1043.1" cy="257.1" r="0.6"/><circle cx="1029.1" cy="246.5" r="0.6"/><circle cx="1027.5" cy="246.3" r="0.9"/><circle cx="1039.3" cy="252.2" r="0.6"/><circle cx="1038.4" cy="242.2" r="0.8"/><circle cx="1048.3" cy="250.7" r="0.9"/><circle cx="1031.2" cy="237.1" r="0.7"/><circle cx="1036.9" cy="248.1" r="0.9"/><circle cx="1051.7" cy="247.8" r="0.7"/><circle cx="1045.6" cy="241.7" r="0.9"/><circle cx="1040.6" cy="254.5" r="0.9"/><circle cx="1039.8" cy="238.9" r="0.7"/><circle cx="1045.1" cy="253.9" r="0.9"/><circle cx="1045.6" cy="256.6" r="0.9"/></g>
<circle cx="1067.9" cy="246.5" r="13.1" fill="url(#dg)" stroke="#141414" stroke-width="1.5"/>
<g fill="#3df03d" opacity="0.9"><circle cx="1057.2" cy="240.7" r="0.8"/><circle cx="1077.1" cy="238.5" r="0.6"/><circle cx="1064.5" cy="256.8" r="0.6"/><circle cx="1074.7" cy="256.7" r="0.7"/><circle cx="1055.9" cy="244.8" r="0.7"/><circle cx="1071.7" cy="255.9" r="0.6"/><circle cx="1079.8" cy="243.7" r="0.7"/><circle cx="1078" cy="245.5" r="0.7"/><circle cx="1069.2" cy="250.2" r="0.6"/><circle cx="1058.6" cy="254.4" r="0.7"/><circle cx="1070.1" cy="238.4" r="0.8"/><circle cx="1056.1" cy="249.3" r="0.8"/><circle cx="1058.6" cy="252.9" r="0.7"/><circle cx="1061.1" cy="243.1" r="0.7"/><circle cx="1066.1" cy="236.3" r="0.9"/><circle cx="1073.6" cy="239" r="0.8"/><circle cx="1066.5" cy="249.9" r="0.7"/><circle cx="1069.8" cy="237.3" r="0.7"/><circle cx="1059.7" cy="250.8" r="0.7"/><circle cx="1065.7" cy="242" r="0.8"/><circle cx="1070.1" cy="234.5" r="0.8"/><circle cx="1080" cy="244.6" r="0.8"/><circle cx="1074" cy="256.2" r="0.8"/><circle cx="1074.9" cy="251.7" r="0.9"/><circle cx="1057.2" cy="245.7" r="0.8"/><circle cx="1063.4" cy="249.4" r="0.9"/><circle cx="1064.7" cy="249.1" r="1"/><circle cx="1060.4" cy="256.1" r="0.7"/><circle cx="1058.1" cy="253.7" r="0.7"/><circle cx="1061.8" cy="249.9" r="0.7"/><circle cx="1069.8" cy="257.8" r="0.8"/><circle cx="1069.4" cy="253.8" r="0.6"/><circle cx="1075.3" cy="254.2" r="0.8"/><circle cx="1062.4" cy="247.6" r="1"/><circle cx="1061.5" cy="255" r="0.9"/><circle cx="1056" cy="249" r="0.8"/><circle cx="1072.9" cy="251.5" r="0.9"/><circle cx="1066.6" cy="258.7" r="0.7"/><circle cx="1057" cy="252" r="0.6"/><circle cx="1065.8" cy="234.5" r="0.7"/><circle cx="1065.5" cy="253.9" r="0.8"/><circle cx="1061.4" cy="236.3" r="1"/><circle cx="1075.4" cy="236.9" r="0.9"/><circle cx="1071.6" cy="244.1" r="0.9"/><circle cx="1059.8" cy="237.5" r="0.6"/><circle cx="1073.6" cy="244.8" r="0.6"/></g>
<circle cx="1095.2" cy="247.3" r="12.5" fill="url(#dg)" stroke="#141414" stroke-width="1.5"/>
<circle cx="1117.4" cy="253" r="4.8" fill="#e6e6e6" stroke="#333" stroke-width="0.8"/>
<circle cx="1134.6" cy="245.9" r="11.7" fill="url(#dg)" stroke="#141414" stroke-width="1.5"/>
<g fill="#3df03d" opacity="0.9"><circle cx="1141.4" cy="254.4" r="0.9"/><circle cx="1128.4" cy="254.9" r="1"/><circle cx="1137.4" cy="235.4" r="1"/><circle cx="1127.9" cy="240.5" r="1"/><circle cx="1135.7" cy="241.4" r="0.9"/><circle cx="1127.7" cy="244.6" r="0.9"/><circle cx="1124.3" cy="242.2" r="0.7"/><circle cx="1136.2" cy="247.9" r="0.8"/><circle cx="1139.2" cy="251.8" r="0.8"/><circle cx="1141.7" cy="237.7" r="0.9"/><circle cx="1126.2" cy="247.6" r="0.9"/><circle cx="1126.9" cy="253.6" r="1"/><circle cx="1142.1" cy="249.8" r="0.6"/><circle cx="1126.7" cy="239.5" r="0.7"/><circle cx="1141.9" cy="245.1" r="1"/><circle cx="1142.7" cy="247.7" r="0.7"/><circle cx="1141.6" cy="237.6" r="0.8"/><circle cx="1129.8" cy="245.1" r="0.7"/><circle cx="1126.1" cy="250.4" r="0.7"/><circle cx="1139.7" cy="236.3" r="0.8"/><circle cx="1133.2" cy="256.2" r="0.8"/><circle cx="1137.4" cy="235.4" r="0.7"/><circle cx="1132" cy="253.9" r="0.9"/><circle cx="1144.2" cy="248.4" r="0.8"/><circle cx="1144.9" cy="249.3" r="0.6"/><circle cx="1137.6" cy="253.6" r="0.8"/><circle cx="1136.6" cy="237.9" r="0.8"/><circle cx="1128.9" cy="240.1" r="0.9"/><circle cx="1136.2" cy="252.9" r="0.9"/><circle cx="1143.3" cy="252.4" r="0.6"/><circle cx="1135.9" cy="237.5" r="0.7"/><circle cx="1138.1" cy="238.8" r="0.7"/><circle cx="1131.1" cy="256.2" r="0.7"/><circle cx="1125.3" cy="250.2" r="0.6"/><circle cx="1124.7" cy="241.4" r="0.6"/><circle cx="1138.3" cy="236.5" r="0.8"/><circle cx="1145.4" cy="246.9" r="0.8"/><circle cx="1141.3" cy="243.1" r="0.7"/><circle cx="1138.5" cy="248.8" r="0.6"/><circle cx="1145.4" cy="247" r="0.9"/><circle cx="1136.8" cy="248.1" r="0.9"/><circle cx="1142.1" cy="253.8" r="0.9"/><circle cx="1134.8" cy="250.5" r="0.6"/><circle cx="1136" cy="236.3" r="0.9"/><circle cx="1142.2" cy="250.4" r="0.8"/><circle cx="1144.5" cy="241.4" r="1"/></g>
<circle cx="1024.5" cy="270.6" r="13.1" fill="url(#dg)" stroke="#141414" stroke-width="1.5"/>
<g fill="#3df03d" opacity="0.9"><circle cx="1022" cy="258.6" r="0.6"/><circle cx="1022.6" cy="267.9" r="0.7"/><circle cx="1023" cy="258.5" r="0.9"/><circle cx="1012.4" cy="271.6" r="0.7"/><circle cx="1013.6" cy="265" r="0.9"/><circle cx="1028.9" cy="276.2" r="0.8"/><circle cx="1016.2" cy="261.7" r="0.7"/><circle cx="1026.9" cy="260.4" r="0.8"/><circle cx="1021.3" cy="282.3" r="1"/><circle cx="1022.6" cy="264" r="0.8"/><circle cx="1033.6" cy="269.3" r="0.7"/><circle cx="1018" cy="273.7" r="0.9"/><circle cx="1016" cy="264.2" r="0.7"/><circle cx="1036.7" cy="270.7" r="0.7"/><circle cx="1015" cy="264.8" r="0.6"/><circle cx="1030" cy="261" r="0.8"/><circle cx="1022.9" cy="281.1" r="0.9"/><circle cx="1035" cy="264.3" r="0.6"/><circle cx="1019.5" cy="268.8" r="0.9"/><circle cx="1035.6" cy="265.5" r="0.8"/><circle cx="1022.2" cy="265.7" r="0.7"/><circle cx="1024.6" cy="262.5" r="0.6"/><circle cx="1026.5" cy="265.2" r="0.8"/><circle cx="1031.3" cy="265.4" r="0.8"/><circle cx="1014.2" cy="264.1" r="0.6"/><circle cx="1027.5" cy="277" r="0.8"/><circle cx="1020.8" cy="273.2" r="0.6"/><circle cx="1036.7" cy="270.3" r="0.6"/><circle cx="1021.4" cy="267.1" r="0.8"/><circle cx="1023.6" cy="272" r="0.6"/><circle cx="1032.7" cy="270.1" r="0.8"/><circle cx="1024" cy="278.2" r="1"/><circle cx="1025.8" cy="259" r="0.7"/><circle cx="1036.4" cy="273.4" r="0.6"/><circle cx="1035.1" cy="276.7" r="0.8"/><circle cx="1032.4" cy="262.2" r="1"/><circle cx="1031.4" cy="273.5" r="0.6"/><circle cx="1036.3" cy="267.5" r="0.8"/><circle cx="1018.4" cy="263.1" r="0.7"/><circle cx="1013" cy="274.5" r="1"/><circle cx="1036.7" cy="269.9" r="0.6"/><circle cx="1024.1" cy="282.8" r="1"/><circle cx="1026.6" cy="269.1" r="0.9"/><circle cx="1021.6" cy="259.2" r="0.6"/><circle cx="1031.6" cy="279.6" r="0.9"/><circle cx="1021.4" cy="280.4" r="0.6"/></g>
<circle cx="1053.2" cy="271.2" r="13.1" fill="url(#dg)" stroke="#141414" stroke-width="1.5"/>
<circle cx="1082.1" cy="271.2" r="13.7" fill="url(#dg)" stroke="#141414" stroke-width="1.5"/>
<g fill="#3df03d" opacity="0.9"><circle cx="1076.4" cy="282.6" r="0.6"/><circle cx="1069.4" cy="272.7" r="0.7"/><circle cx="1082.9" cy="272.2" r="0.9"/><circle cx="1086.4" cy="283.2" r="1"/><circle cx="1084.2" cy="282.5" r="0.9"/><circle cx="1090.2" cy="281" r="0.6"/><circle cx="1090.9" cy="266.9" r="0.8"/><circle cx="1077.5" cy="278.4" r="0.8"/><circle cx="1090" cy="281.1" r="0.6"/><circle cx="1081" cy="266.6" r="0.9"/><circle cx="1080.8" cy="283.9" r="0.6"/><circle cx="1081.1" cy="278.2" r="0.6"/><circle cx="1069.3" cy="271.9" r="1"/><circle cx="1084.3" cy="273.1" r="1"/><circle cx="1075.8" cy="260" r="0.8"/><circle cx="1079.2" cy="283.6" r="0.6"/><circle cx="1074" cy="280.5" r="1"/><circle cx="1092.5" cy="278.5" r="1"/><circle cx="1088.3" cy="273.5" r="1"/><circle cx="1089.3" cy="271.9" r="0.6"/><circle cx="1091" cy="271.3" r="0.6"/><circle cx="1076.8" cy="273.4" r="0.8"/><circle cx="1090.3" cy="280.9" r="0.9"/><circle cx="1079" cy="258.8" r="0.6"/><circle cx="1089.5" cy="275.7" r="0.7"/><circle cx="1084.9" cy="281.2" r="0.9"/><circle cx="1071" cy="264.8" r="0.6"/><circle cx="1080.7" cy="258.5" r="0.9"/><circle cx="1088.8" cy="273.6" r="0.9"/><circle cx="1083.1" cy="270" r="1"/><circle cx="1075.8" cy="272.1" r="0.6"/><circle cx="1088.3" cy="260" r="0.6"/><circle cx="1081.5" cy="271.8" r="0.8"/><circle cx="1078" cy="272.6" r="0.9"/><circle cx="1084.9" cy="264.8" r="0.9"/><circle cx="1079.8" cy="273.2" r="0.9"/><circle cx="1090.6" cy="268.6" r="0.8"/><circle cx="1069.7" cy="268.2" r="1"/><circle cx="1084.2" cy="283.8" r="0.6"/><circle cx="1082.1" cy="273.3" r="0.6"/><circle cx="1078.1" cy="259" r="0.6"/><circle cx="1074.8" cy="265.9" r="0.9"/><circle cx="1090.4" cy="277.5" r="0.6"/><circle cx="1088.3" cy="277.3" r="0.7"/><circle cx="1091.3" cy="280" r="0.6"/><circle cx="1078.1" cy="268.6" r="0.8"/></g>
<circle cx="1110.3" cy="272.2" r="12.5" fill="url(#dg)" stroke="#141414" stroke-width="1.5"/>
<circle cx="1133.6" cy="268.1" r="9.1" fill="url(#dg4)" stroke="#141414" stroke-width="1.5"/>
<circle cx="1036.6" cy="294.4" r="11.7" fill="url(#dg)" stroke="#141414" stroke-width="1.5"/>
<g fill="#3df03d" opacity="0.9"><circle cx="1036.4" cy="283.5" r="0.9"/><circle cx="1046.7" cy="290.2" r="0.7"/><circle cx="1040.2" cy="288.8" r="1"/><circle cx="1038.5" cy="283.6" r="0.7"/><circle cx="1031.1" cy="303.8" r="1"/><circle cx="1039.8" cy="285.4" r="0.9"/><circle cx="1046.4" cy="297.8" r="1"/><circle cx="1036.7" cy="305.3" r="0.8"/><circle cx="1034.8" cy="296.5" r="0.7"/><circle cx="1025.8" cy="294.1" r="0.6"/><circle cx="1046.7" cy="292.5" r="0.8"/><circle cx="1040.2" cy="285.2" r="0.6"/><circle cx="1029.8" cy="285.9" r="0.9"/><circle cx="1035.2" cy="304.4" r="0.8"/><circle cx="1036.6" cy="301.3" r="1"/><circle cx="1034.1" cy="305" r="0.8"/><circle cx="1044.1" cy="301.5" r="0.8"/><circle cx="1035.8" cy="302" r="0.6"/><circle cx="1044.4" cy="302" r="0.7"/><circle cx="1027.6" cy="300.4" r="0.7"/><circle cx="1044.9" cy="299.5" r="0.8"/><circle cx="1032.4" cy="292.4" r="0.9"/><circle cx="1028.6" cy="296.4" r="0.8"/><circle cx="1032.6" cy="304.5" r="0.6"/><circle cx="1025.8" cy="293.5" r="0.8"/><circle cx="1047.5" cy="295.2" r="0.9"/><circle cx="1037.2" cy="301.8" r="0.7"/><circle cx="1047.5" cy="293.5" r="0.9"/><circle cx="1042.6" cy="303.5" r="0.9"/><circle cx="1026.5" cy="298.4" r="0.7"/><circle cx="1033.4" cy="295.7" r="0.7"/><circle cx="1040.6" cy="293.3" r="0.7"/><circle cx="1031.7" cy="301" r="0.9"/><circle cx="1040.6" cy="286.2" r="0.9"/><circle cx="1037.2" cy="285.1" r="0.9"/><circle cx="1046" cy="288.8" r="0.9"/><circle cx="1044.7" cy="294.6" r="0.8"/><circle cx="1043.3" cy="292.8" r="0.9"/><circle cx="1041.2" cy="289.7" r="0.8"/><circle cx="1031.1" cy="295.9" r="0.7"/><circle cx="1026.4" cy="290.7" r="0.7"/><circle cx="1038.4" cy="287.1" r="0.7"/><circle cx="1041" cy="304.4" r="0.6"/><circle cx="1033.9" cy="293" r="1"/><circle cx="1032.3" cy="303" r="1"/><circle cx="1039.7" cy="304.8" r="1"/></g>
<circle cx="1062.9" cy="298.4" r="12.5" fill="url(#dg)" stroke="#141414" stroke-width="1.5"/>
<circle cx="1091.2" cy="299" r="13.7" fill="url(#dg)" stroke="#141414" stroke-width="1.5"/>
<circle cx="1115" cy="294.4" r="8.5" fill="url(#dg)" stroke="#141414" stroke-width="1.5"/>
<circle cx="1058.9" cy="324.7" r="12.1" fill="url(#dg)" stroke="#141414" stroke-width="1.5"/>
<g fill="#3df03d" opacity="0.9"><circle cx="1070.1" cy="325.4" r="0.8"/><circle cx="1049.3" cy="324.8" r="0.8"/><circle cx="1066.7" cy="324.6" r="0.9"/><circle cx="1050.2" cy="331.9" r="0.8"/><circle cx="1053.5" cy="331.9" r="0.8"/><circle cx="1068" cy="331.2" r="0.7"/><circle cx="1049.4" cy="320.8" r="1"/><circle cx="1047.6" cy="325.6" r="0.8"/><circle cx="1070.1" cy="324.4" r="0.8"/><circle cx="1063.4" cy="314.4" r="0.7"/><circle cx="1066.6" cy="323.6" r="0.6"/><circle cx="1066.6" cy="318.6" r="1"/><circle cx="1067.5" cy="317.4" r="0.6"/><circle cx="1056.9" cy="332.2" r="0.6"/><circle cx="1062.3" cy="332.4" r="0.7"/><circle cx="1061.1" cy="324.6" r="0.7"/><circle cx="1061.5" cy="313.7" r="0.9"/><circle cx="1070.1" cy="325" r="0.9"/><circle cx="1054.7" cy="322.2" r="0.8"/><circle cx="1048.2" cy="321" r="0.8"/><circle cx="1050.7" cy="323.1" r="0.7"/><circle cx="1067" cy="332.5" r="0.9"/><circle cx="1067.7" cy="331.7" r="0.6"/><circle cx="1050.4" cy="323.5" r="0.9"/><circle cx="1069.3" cy="329" r="0.9"/><circle cx="1056" cy="330.5" r="0.6"/><circle cx="1057.7" cy="335.9" r="1"/><circle cx="1049.1" cy="319.1" r="0.8"/><circle cx="1050.4" cy="332.1" r="1"/><circle cx="1052.6" cy="321.1" r="0.8"/><circle cx="1058.9" cy="335.9" r="1"/><circle cx="1065.7" cy="315.8" r="1"/><circle cx="1063.4" cy="314.4" r="0.8"/><circle cx="1069.1" cy="322" r="0.7"/><circle cx="1054.9" cy="328" r="0.7"/><circle cx="1065.7" cy="317.8" r="0.7"/><circle cx="1064.1" cy="334.7" r="0.6"/><circle cx="1069.9" cy="322.7" r="0.8"/><circle cx="1063.9" cy="329.2" r="0.7"/><circle cx="1069.2" cy="329.2" r="0.9"/><circle cx="1052.2" cy="333.7" r="0.6"/><circle cx="1056.5" cy="335.7" r="0.6"/><circle cx="1053.1" cy="315" r="0.6"/><circle cx="1055.8" cy="313.8" r="0.7"/><circle cx="1064.6" cy="315" r="0.7"/><circle cx="1061.1" cy="321" r="0.7"/></g>
<circle cx="1083.1" cy="324.7" r="12.1" fill="url(#dg)" stroke="#141414" stroke-width="1.5"/>
<g fill="#3df03d" opacity="0.9"><circle cx="1081.1" cy="313.6" r="1"/><circle cx="1085.1" cy="332.2" r="0.7"/><circle cx="1072.3" cy="328" r="0.9"/><circle cx="1082.5" cy="333" r="0.7"/><circle cx="1083.2" cy="329.7" r="0.9"/><circle cx="1088.8" cy="330.3" r="0.7"/><circle cx="1084.6" cy="313.5" r="0.8"/><circle cx="1072.8" cy="320" r="0.7"/><circle cx="1092.7" cy="330.5" r="0.9"/><circle cx="1081.5" cy="327.9" r="0.8"/><circle cx="1079.3" cy="329.2" r="0.6"/><circle cx="1078.9" cy="335.1" r="0.6"/><circle cx="1080.7" cy="313.7" r="0.7"/><circle cx="1091.7" cy="319.1" r="0.9"/><circle cx="1090.7" cy="333" r="0.6"/><circle cx="1080.3" cy="318.8" r="0.7"/><circle cx="1080.1" cy="320.1" r="0.9"/><circle cx="1080.3" cy="328.4" r="0.6"/><circle cx="1090.9" cy="319.9" r="0.6"/><circle cx="1094" cy="327.5" r="0.6"/><circle cx="1079.4" cy="335.3" r="0.6"/><circle cx="1081.4" cy="329" r="0.9"/><circle cx="1078.1" cy="322.3" r="0.7"/><circle cx="1078.6" cy="314.4" r="0.6"/><circle cx="1086" cy="319.6" r="0.6"/><circle cx="1084.5" cy="322.8" r="0.7"/><circle cx="1086.9" cy="327.9" r="1"/><circle cx="1083.1" cy="313.4" r="0.9"/><circle cx="1075.3" cy="330.8" r="0.7"/><circle cx="1089.1" cy="328.5" r="1"/><circle cx="1079.5" cy="315.4" r="0.8"/><circle cx="1072.3" cy="328" r="0.9"/><circle cx="1073.6" cy="329.2" r="0.6"/><circle cx="1083.9" cy="313.4" r="0.9"/><circle cx="1087" cy="314.1" r="0.8"/><circle cx="1091" cy="323.1" r="0.7"/><circle cx="1093.6" cy="328.8" r="0.7"/><circle cx="1086.5" cy="335.4" r="0.6"/><circle cx="1081.7" cy="319.6" r="0.7"/><circle cx="1071.9" cy="323.6" r="1"/><circle cx="1076.4" cy="333.7" r="0.9"/><circle cx="1087" cy="329.6" r="0.9"/><circle cx="1078.8" cy="323.3" r="0.8"/><circle cx="1075.3" cy="319.1" r="0.9"/><circle cx="1091.6" cy="332.1" r="0.7"/><circle cx="1086.1" cy="335.5" r="0.7"/></g>
<circle cx="1100.3" cy="330.7" r="3.6" fill="#e6e6e6" stroke="#333" stroke-width="0.8"/>
<circle cx="1012.4" cy="214.2" r="2.9" fill="#e6e6e6" stroke="#333" stroke-width="0.8"/>
<circle cx="1042.7" cy="230.8" r="1.9" fill="#e6e6e6" stroke="#333" stroke-width="0.8"/>
<circle cx="1082.1" cy="238.9" r="2.1" fill="#e6e6e6" stroke="#333" stroke-width="0.8"/>
<circle cx="1026.5" cy="253" r="2.4" fill="#e6e6e6" stroke="#333" stroke-width="0.8"/>
<circle cx="1068.9" cy="181.3" r="1.9" fill="#e6e6e6" stroke="#333" stroke-width="0.8"/>
<circle cx="1023.5" cy="289.3" r="1.8" fill="#e6e6e6" stroke="#333" stroke-width="0.8"/>
<circle cx="1077" cy="289.3" r="1.9" fill="#e6e6e6" stroke="#333" stroke-width="0.8"/>
<circle cx="1093.2" cy="304.5" r="2.1" fill="#e6e6e6" stroke="#333" stroke-width="0.8"/>
<line x1="1004.3" x2="1021.5" y1="327.3" y2="327.3" stroke="#f2f2f2" stroke-width="1.3"/>
<text x="1012.9" y="326.1" font-size="3.2" fill="#eee" text-anchor="middle">15 µm</text>
</g>
<g fill="#000"><rect x="985.8" y="160.5" width="31.7" height="8" rx="1.5"/><rect x="985.8" y="337.9" width="31.7" height="8" rx="1.5"/><rect x="1039.7" y="160.5" width="28.3" height="8" rx="1.5"/><rect x="1039.7" y="337.9" width="28.3" height="8" rx="1.5"/><rect x="1090" y="160.5" width="28.4" height="8" rx="1.5"/><rect x="1090" y="337.9" width="28.4" height="8" rx="1.5"/><rect x="1140.6" y="160.5" width="29.3" height="8" rx="1.5"/><rect x="1140.6" y="337.9" width="29.3" height="8" rx="1.5"/><rect x="985.8" y="189.4" width="7.4" height="30.3"/><rect x="1162.5" y="188.4" width="7.4" height="30.3"/><rect x="985.8" y="239.9" width="7.4" height="29.3"/><rect x="1162.5" y="238.9" width="7.4" height="29.3"/><rect x="985.8" y="291.4" width="7.4" height="30.3"/><rect x="1162.5" y="290.4" width="7.4" height="30.3"/></g>
<clipPath id="clip_i2"><rect x="1251" y="166.4" width="173" height="173.6"/></clipPath>
<g clip-path="url(#clip_i2)">
<rect x="1251" y="166.4" width="173" height="173.6" fill="#6e6e6e"/>
<path d="M1304.7,164.9 L1304.7,172.2 Q1304.7,178.2 1300.7,180.4 A76.5,80 0 0 0 1262,250 A76.5,78 0 0 0 1301.7,318.4 Q1305.7,320.5 1305.7,326.5 L1305.7,341.5 L1369.3,341.5 L1369.3,327.4 Q1369.3,321.4 1373.3,319.5 A76.5,78 0 0 0 1415,250 A76.5,80 0 0 0 1376.4,180.5 Q1372.4,178.3 1372.4,172.3 L1372.4,164.9 Z" fill="#6a6a6a" stroke="#8a8a8a" stroke-width="10"/>
<path d="M1304.7,164.9 L1304.7,172.2 Q1304.7,178.2 1300.7,180.4 A76.5,80 0 0 0 1262,250 A76.5,78 0 0 0 1301.7,318.4 Q1305.7,320.5 1305.7,326.5 L1305.7,341.5 L1369.3,341.5 L1369.3,327.4 Q1369.3,321.4 1373.3,319.5 A76.5,78 0 0 0 1415,250 A76.5,80 0 0 0 1376.4,180.5 Q1372.4,178.3 1372.4,172.3 L1372.4,164.9 Z" fill="#6a6a6a" stroke="#141414" stroke-width="2.6"/>
<circle cx="1332" cy="169.2" r="12.1" fill="url(#dg)" stroke="#141414" stroke-width="1.5"/>
<g fill="#3df03d" opacity="0.92"><ellipse cx="1331.3" cy="175.4" rx="1.2" ry="0.8" transform="rotate(84 1331.3 175.4)"/><ellipse cx="1334.5" cy="172.6" rx="1.1" ry="0.6" transform="rotate(178 1334.5 172.6)"/><ellipse cx="1331.2" cy="172.7" rx="2.1" ry="1.2" transform="rotate(101 1331.2 172.7)"/><ellipse cx="1338.1" cy="171.6" rx="1.7" ry="0.7" transform="rotate(97 1338.1 171.6)"/><ellipse cx="1341.6" cy="170.7" rx="2" ry="1" transform="rotate(168 1341.6 170.7)"/><ellipse cx="1332" cy="174" rx="1.4" ry="0.7" transform="rotate(4 1332 174)"/><ellipse cx="1329.5" cy="178" rx="1.5" ry="0.7" transform="rotate(114 1329.5 178)"/><ellipse cx="1327.9" cy="178.1" rx="1.3" ry="1.1" transform="rotate(149 1327.9 178.1)"/><ellipse cx="1330.9" cy="174.5" rx="1.3" ry="1.1" transform="rotate(57 1330.9 174.5)"/></g>
<circle cx="1357.2" cy="172.2" r="11.1" fill="url(#dg)" stroke="#141414" stroke-width="1.5"/>
<circle cx="1318.9" cy="186.3" r="12.5" fill="url(#dg)" stroke="#141414" stroke-width="1.5"/>
<g fill="#3df03d" opacity="0.92"><ellipse cx="1314.4" cy="190.2" rx="2.3" ry="0.7" transform="rotate(7 1314.4 190.2)"/><ellipse cx="1312.7" cy="191.3" rx="2.3" ry="1" transform="rotate(162 1312.7 191.3)"/><ellipse cx="1312.1" cy="185.3" rx="1.8" ry="0.7" transform="rotate(53 1312.1 185.3)"/><ellipse cx="1315.9" cy="188.6" rx="2.1" ry="0.7" transform="rotate(79 1315.9 188.6)"/><ellipse cx="1315.1" cy="185.6" rx="1.1" ry="0.9" transform="rotate(34 1315.1 185.6)"/><ellipse cx="1315.9" cy="187.4" rx="2.3" ry="1.1" transform="rotate(141 1315.9 187.4)"/><ellipse cx="1316" cy="190.7" rx="2.1" ry="0.9" transform="rotate(75 1316 190.7)"/><ellipse cx="1316.4" cy="192.3" rx="2.1" ry="1.1" transform="rotate(162 1316.4 192.3)"/><ellipse cx="1318.8" cy="191.7" rx="1.7" ry="0.9" transform="rotate(62 1318.8 191.7)"/></g>
<circle cx="1345.1" cy="193.4" r="12.5" fill="url(#dg)" stroke="#141414" stroke-width="1.5"/>
<g fill="#3df03d" opacity="0.92"><ellipse cx="1350.4" cy="195.1" rx="1.7" ry="1.2" transform="rotate(163 1350.4 195.1)"/><ellipse cx="1340.5" cy="202.8" rx="2.5" ry="1" transform="rotate(146 1340.5 202.8)"/><ellipse cx="1353" cy="195.5" rx="2" ry="0.8" transform="rotate(102 1353 195.5)"/><ellipse cx="1341" cy="198.8" rx="2" ry="0.8" transform="rotate(61 1341 198.8)"/><ellipse cx="1343.5" cy="196.3" rx="1.3" ry="1" transform="rotate(80 1343.5 196.3)"/><ellipse cx="1352.8" cy="195.9" rx="1.6" ry="0.9" transform="rotate(74 1352.8 195.9)"/><ellipse cx="1347.1" cy="200.5" rx="1.6" ry="0.7" transform="rotate(32 1347.1 200.5)"/><ellipse cx="1341.5" cy="199.7" rx="1.2" ry="1.1" transform="rotate(45 1341.5 199.7)"/><ellipse cx="1351.8" cy="195.8" rx="1.4" ry="0.9" transform="rotate(99 1351.8 195.8)"/></g>
<circle cx="1372.4" cy="202.1" r="13.1" fill="url(#dg)" stroke="#141414" stroke-width="1.5"/>
<circle cx="1296.6" cy="208.6" r="13.1" fill="url(#dg)" stroke="#141414" stroke-width="1.5"/>
<circle cx="1324.9" cy="213.6" r="13.1" fill="url(#dg)" stroke="#141414" stroke-width="1.5"/>
<circle cx="1352.2" cy="219.7" r="12.5" fill="url(#dg)" stroke="#141414" stroke-width="1.5"/>
<g fill="#3df03d" opacity="0.92"><ellipse cx="1352.1" cy="223.6" rx="1.8" ry="1" transform="rotate(14 1352.1 223.6)"/><ellipse cx="1353.4" cy="223.1" rx="1.7" ry="1.1" transform="rotate(99 1353.4 223.1)"/><ellipse cx="1349.4" cy="228" rx="1.2" ry="1.2" transform="rotate(129 1349.4 228)"/><ellipse cx="1360.2" cy="224.5" rx="1.6" ry="0.7" transform="rotate(172 1360.2 224.5)"/><ellipse cx="1352.3" cy="228.6" rx="1.2" ry="1.1" transform="rotate(10 1352.3 228.6)"/><ellipse cx="1356.1" cy="224.1" rx="1" ry="1" transform="rotate(38 1356.1 224.1)"/><ellipse cx="1356.9" cy="226.7" rx="1.7" ry="1.1" transform="rotate(111 1356.9 226.7)"/><ellipse cx="1347.6" cy="225.4" rx="2.5" ry="1.1" transform="rotate(30 1347.6 225.4)"/><ellipse cx="1350" cy="224.9" rx="2.2" ry="1" transform="rotate(148 1350 224.9)"/></g>
<circle cx="1391.6" cy="222.7" r="13.1" fill="url(#dg)" stroke="#141414" stroke-width="1.5"/>
<circle cx="1280.5" cy="231.8" r="13.1" fill="url(#dg)" stroke="#141414" stroke-width="1.5"/>
<g fill="#3df03d" opacity="0.92"><ellipse cx="1289.1" cy="228.9" rx="2.2" ry="0.6" transform="rotate(108 1289.1 228.9)"/><ellipse cx="1282.8" cy="225.1" rx="1.2" ry="1.2" transform="rotate(121 1282.8 225.1)"/><ellipse cx="1277.3" cy="232.9" rx="2.3" ry="0.9" transform="rotate(20 1277.3 232.9)"/><ellipse cx="1281.3" cy="229.4" rx="1.3" ry="0.9" transform="rotate(52 1281.3 229.4)"/><ellipse cx="1283.8" cy="236" rx="2.4" ry="0.9" transform="rotate(124 1283.8 236)"/><ellipse cx="1291.7" cy="232.8" rx="1.5" ry="0.7" transform="rotate(90 1291.7 232.8)"/><ellipse cx="1290" cy="233.9" rx="1.3" ry="1.1" transform="rotate(122 1290 233.9)"/><ellipse cx="1283.9" cy="237.1" rx="2.4" ry="0.8" transform="rotate(157 1283.9 237.1)"/><ellipse cx="1279.5" cy="233.6" rx="1.3" ry="1.1" transform="rotate(106 1279.5 233.6)"/><ellipse cx="1278.5" cy="234.2" rx="1.7" ry="0.9" transform="rotate(69 1278.5 234.2)"/><ellipse cx="1279.3" cy="231.1" rx="1.5" ry="0.6" transform="rotate(82 1279.3 231.1)"/><ellipse cx="1281.6" cy="233.2" rx="2.1" ry="0.8" transform="rotate(49 1281.6 233.2)"/><ellipse cx="1276.8" cy="230.1" rx="1.8" ry="1.2" transform="rotate(178 1276.8 230.1)"/><ellipse cx="1281.4" cy="224.6" rx="2.4" ry="1.1" transform="rotate(113 1281.4 224.6)"/><ellipse cx="1279.5" cy="236.8" rx="2.3" ry="1.1" transform="rotate(168 1279.5 236.8)"/><ellipse cx="1280.9" cy="227.3" rx="2.2" ry="0.9" transform="rotate(114 1280.9 227.3)"/><ellipse cx="1274.6" cy="235.7" rx="1.1" ry="0.8" transform="rotate(58 1274.6 235.7)"/><ellipse cx="1276.2" cy="236.5" rx="1.4" ry="0.7" transform="rotate(62 1276.2 236.5)"/></g>
<circle cx="1307.7" cy="234.8" r="12.5" fill="url(#dg)" stroke="#141414" stroke-width="1.5"/>
<circle cx="1334" cy="238.9" r="12.5" fill="url(#dg)" stroke="#141414" stroke-width="1.5"/>
<g fill="#3df03d" opacity="0.92"><ellipse cx="1343.4" cy="236.6" rx="1.7" ry="0.9" transform="rotate(102 1343.4 236.6)"/><ellipse cx="1338" cy="240.6" rx="1.1" ry="0.8" transform="rotate(55 1338 240.6)"/><ellipse cx="1335.6" cy="245.9" rx="2.5" ry="0.8" transform="rotate(165 1335.6 245.9)"/><ellipse cx="1335.9" cy="242.1" rx="1.3" ry="0.9" transform="rotate(177 1335.9 242.1)"/><ellipse cx="1341.7" cy="243.4" rx="1.7" ry="1.1" transform="rotate(12 1341.7 243.4)"/><ellipse cx="1340.8" cy="246.1" rx="1.4" ry="0.8" transform="rotate(4 1340.8 246.1)"/><ellipse cx="1339.1" cy="239.4" rx="2.1" ry="0.7" transform="rotate(71 1339.1 239.4)"/><ellipse cx="1341.5" cy="240.3" rx="2.4" ry="1" transform="rotate(35 1341.5 240.3)"/><ellipse cx="1336.1" cy="249" rx="2" ry="0.6" transform="rotate(145 1336.1 249)"/></g>
<circle cx="1369.3" cy="240.9" r="12.5" fill="url(#dg)" stroke="#141414" stroke-width="1.5"/>
<circle cx="1397.6" cy="248.9" r="12.1" fill="url(#dg)" stroke="#141414" stroke-width="1.5"/>
<g fill="#3df03d" opacity="0.92"><ellipse cx="1399.3" cy="245.3" rx="1.3" ry="0.9" transform="rotate(157 1399.3 245.3)"/><ellipse cx="1406.3" cy="244.5" rx="1.3" ry="0.8" transform="rotate(134 1406.3 244.5)"/><ellipse cx="1403" cy="246.3" rx="2.1" ry="0.8" transform="rotate(10 1403 246.3)"/><ellipse cx="1399.5" cy="246.2" rx="2" ry="0.8" transform="rotate(88 1399.5 246.2)"/><ellipse cx="1401.7" cy="246.3" rx="1.7" ry="0.6" transform="rotate(166 1401.7 246.3)"/><ellipse cx="1405.8" cy="242.8" rx="1.1" ry="1" transform="rotate(130 1405.8 242.8)"/><ellipse cx="1399.1" cy="245.6" rx="1.2" ry="0.7" transform="rotate(138 1399.1 245.6)"/><ellipse cx="1396.6" cy="240.1" rx="1.7" ry="0.9" transform="rotate(105 1396.6 240.1)"/><ellipse cx="1403.8" cy="244.2" rx="2" ry="0.8" transform="rotate(133 1403.8 244.2)"/></g>
<circle cx="1279.5" cy="261.1" r="13.1" fill="url(#dg)" stroke="#141414" stroke-width="1.5"/>
<circle cx="1307.7" cy="263.1" r="12.5" fill="url(#dg)" stroke="#141414" stroke-width="1.5"/>
<circle cx="1341.1" cy="265.1" r="12.5" fill="url(#dg)" stroke="#141414" stroke-width="1.5"/>
<circle cx="1369.3" cy="267.1" r="12.5" fill="url(#dg)" stroke="#141414" stroke-width="1.5"/>
<circle cx="1396.6" cy="276.2" r="12.5" fill="url(#dg)" stroke="#141414" stroke-width="1.5"/>
<g fill="#3df03d" opacity="0.92"><ellipse cx="1398" cy="267.4" rx="1.5" ry="1.1" transform="rotate(175 1398 267.4)"/><ellipse cx="1392.6" cy="275.6" rx="2.5" ry="0.7" transform="rotate(1 1392.6 275.6)"/><ellipse cx="1397.8" cy="268.5" rx="1.6" ry="1.2" transform="rotate(41 1397.8 268.5)"/><ellipse cx="1398.7" cy="276.6" rx="1.2" ry="0.6" transform="rotate(90 1398.7 276.6)"/><ellipse cx="1399.5" cy="275.1" rx="1.6" ry="0.7" transform="rotate(31 1399.5 275.1)"/><ellipse cx="1402.1" cy="285.1" rx="1" ry="1.1" transform="rotate(43 1402.1 285.1)"/><ellipse cx="1392.5" cy="271.5" rx="1.6" ry="1.1" transform="rotate(82 1392.5 271.5)"/><ellipse cx="1404.6" cy="282.7" rx="2.2" ry="0.6" transform="rotate(116 1404.6 282.7)"/><ellipse cx="1405.8" cy="279.9" rx="1.9" ry="0.8" transform="rotate(165 1405.8 279.9)"/><ellipse cx="1397.8" cy="283.6" rx="1.4" ry="0.8" transform="rotate(78 1397.8 283.6)"/><ellipse cx="1396.8" cy="272.9" rx="2" ry="0.8" transform="rotate(178 1396.8 272.9)"/><ellipse cx="1400.4" cy="282" rx="2.4" ry="1.1" transform="rotate(48 1400.4 282)"/><ellipse cx="1394.7" cy="285.5" rx="1.5" ry="0.9" transform="rotate(160 1394.7 285.5)"/><ellipse cx="1390" cy="271.6" rx="1.7" ry="0.9" transform="rotate(158 1390 271.6)"/><ellipse cx="1390.1" cy="284" rx="2.2" ry="1.1" transform="rotate(32 1390.1 284)"/><ellipse cx="1393.3" cy="286.9" rx="1" ry="0.7" transform="rotate(175 1393.3 286.9)"/><ellipse cx="1402.7" cy="284.6" rx="2.2" ry="0.7" transform="rotate(30 1402.7 284.6)"/><ellipse cx="1395.4" cy="278" rx="2.5" ry="1" transform="rotate(158 1395.4 278)"/></g>
<circle cx="1287.6" cy="288.3" r="12.5" fill="url(#dg)" stroke="#141414" stroke-width="1.5"/>
<circle cx="1322.9" cy="286.3" r="12.5" fill="url(#dg)" stroke="#141414" stroke-width="1.5"/>
<g fill="#3df03d" opacity="0.92"><ellipse cx="1324.9" cy="281.8" rx="2.3" ry="1" transform="rotate(6 1324.9 281.8)"/><ellipse cx="1327.7" cy="285.7" rx="1.7" ry="0.7" transform="rotate(3 1327.7 285.7)"/><ellipse cx="1326.1" cy="290.8" rx="2.4" ry="0.7" transform="rotate(87 1326.1 290.8)"/><ellipse cx="1326.7" cy="281.2" rx="1.3" ry="1" transform="rotate(26 1326.7 281.2)"/><ellipse cx="1329.2" cy="289" rx="1.2" ry="0.8" transform="rotate(89 1329.2 289)"/><ellipse cx="1326.9" cy="290.4" rx="1.3" ry="1.2" transform="rotate(158 1326.9 290.4)"/><ellipse cx="1327.7" cy="288.2" rx="1.3" ry="0.8" transform="rotate(12 1327.7 288.2)"/><ellipse cx="1325.8" cy="280" rx="1.7" ry="0.9" transform="rotate(65 1325.8 280)"/><ellipse cx="1325.9" cy="278.6" rx="2" ry="0.9" transform="rotate(98 1325.9 278.6)"/></g>
<circle cx="1351.2" cy="290.3" r="12.5" fill="url(#dg)" stroke="#141414" stroke-width="1.5"/>
<circle cx="1379.4" cy="296.4" r="12.5" fill="url(#dg)" stroke="#141414" stroke-width="1.5"/>
<circle cx="1306.7" cy="307.5" r="12.5" fill="url(#dg)" stroke="#141414" stroke-width="1.5"/>
<circle cx="1334" cy="310.5" r="12.5" fill="url(#dg)" stroke="#141414" stroke-width="1.5"/>
<g fill="#3df03d" opacity="0.92"><ellipse cx="1332" cy="300.7" rx="1.6" ry="0.8" transform="rotate(75 1332 300.7)"/><ellipse cx="1330.1" cy="313.9" rx="1.7" ry="0.7" transform="rotate(179 1330.1 313.9)"/><ellipse cx="1340.6" cy="307.3" rx="1.4" ry="1" transform="rotate(67 1340.6 307.3)"/><ellipse cx="1336.4" cy="312.7" rx="2.3" ry="1.1" transform="rotate(163 1336.4 312.7)"/><ellipse cx="1330.3" cy="317.9" rx="2" ry="0.9" transform="rotate(56 1330.3 317.9)"/><ellipse cx="1334" cy="309.3" rx="2.4" ry="0.9" transform="rotate(106 1334 309.3)"/><ellipse cx="1331.5" cy="307.9" rx="2.2" ry="0.8" transform="rotate(128 1331.5 307.9)"/><ellipse cx="1329" cy="306.3" rx="2.1" ry="0.8" transform="rotate(113 1329 306.3)"/><ellipse cx="1331.3" cy="308.3" rx="1.4" ry="1.1" transform="rotate(85 1331.3 308.3)"/><ellipse cx="1327.6" cy="311.5" rx="1.4" ry="0.7" transform="rotate(166 1327.6 311.5)"/><ellipse cx="1327.6" cy="309.4" rx="2.3" ry="0.7" transform="rotate(31 1327.6 309.4)"/><ellipse cx="1330.3" cy="306" rx="2.3" ry="1.1" transform="rotate(156 1330.3 306)"/><ellipse cx="1336.5" cy="306.1" rx="2.3" ry="0.7" transform="rotate(27 1336.5 306.1)"/><ellipse cx="1332.6" cy="312.3" rx="2.3" ry="0.9" transform="rotate(81 1332.6 312.3)"/><ellipse cx="1339.2" cy="310.4" rx="2.1" ry="0.9" transform="rotate(86 1339.2 310.4)"/><ellipse cx="1339.2" cy="317.7" rx="2.1" ry="0.8" transform="rotate(93 1339.2 317.7)"/><ellipse cx="1331.3" cy="314.7" rx="1.6" ry="0.6" transform="rotate(36 1331.3 314.7)"/><ellipse cx="1334.8" cy="312.2" rx="2.1" ry="0.8" transform="rotate(58 1334.8 312.2)"/></g>
<circle cx="1360.3" cy="315.6" r="12.5" fill="url(#dg)" stroke="#141414" stroke-width="1.5"/>
<g fill="#3df03d" opacity="0.92"><ellipse cx="1357.8" cy="318.5" rx="2" ry="1.1" transform="rotate(36 1357.8 318.5)"/><ellipse cx="1362.2" cy="324.5" rx="2" ry="0.8" transform="rotate(7 1362.2 324.5)"/><ellipse cx="1361.3" cy="321.4" rx="2.1" ry="0.8" transform="rotate(73 1361.3 321.4)"/><ellipse cx="1357.7" cy="324.5" rx="1.6" ry="0.8" transform="rotate(104 1357.7 324.5)"/><ellipse cx="1356.7" cy="318.5" rx="2.6" ry="1" transform="rotate(67 1356.7 318.5)"/><ellipse cx="1358.5" cy="320.9" rx="1.1" ry="1.1" transform="rotate(68 1358.5 320.9)"/><ellipse cx="1360.2" cy="322.5" rx="2.4" ry="1.1" transform="rotate(4 1360.2 322.5)"/><ellipse cx="1359.2" cy="322.1" rx="1.7" ry="1.1" transform="rotate(74 1359.2 322.1)"/><ellipse cx="1361.3" cy="325.3" rx="1.7" ry="0.9" transform="rotate(92 1361.3 325.3)"/></g>
<circle cx="1321.9" cy="329.7" r="12.5" fill="url(#dg)" stroke="#141414" stroke-width="1.5"/>
<circle cx="1347.1" cy="334.8" r="12.5" fill="url(#dg)" stroke="#141414" stroke-width="1.5"/>
<g fill="#3df03d" opacity="0.92"><ellipse cx="1353.6" cy="329" rx="1.6" ry="0.6" transform="rotate(122 1353.6 329)"/><ellipse cx="1352.1" cy="327.4" rx="2.2" ry="0.7" transform="rotate(39 1352.1 327.4)"/><ellipse cx="1343" cy="326.5" rx="1.2" ry="0.7" transform="rotate(135 1343 326.5)"/><ellipse cx="1349.2" cy="331.9" rx="2.1" ry="1" transform="rotate(86 1349.2 331.9)"/><ellipse cx="1343.1" cy="327.5" rx="1.7" ry="1" transform="rotate(179 1343.1 327.5)"/><ellipse cx="1356" cy="331" rx="1.2" ry="0.8" transform="rotate(93 1356 331)"/><ellipse cx="1341" cy="326.2" rx="1.4" ry="0.8" transform="rotate(56 1341 326.2)"/><ellipse cx="1346.5" cy="325.2" rx="1.9" ry="0.9" transform="rotate(75 1346.5 325.2)"/><ellipse cx="1344.4" cy="330.1" rx="2.4" ry="1.1" transform="rotate(154 1344.4 330.1)"/></g>
<line x1="1257.3" x2="1273.4" y1="336.8" y2="336.8" stroke="#f2f2f2" stroke-width="1.3"/>
<text x="1265.3" y="335.6" font-size="3.2" fill="#eee" text-anchor="middle">15 µm</text>
</g>
<rect x="1248.8" y="164.2" width="177.4" height="178" fill="none" stroke="#007000" stroke-width="7.4" stroke-linejoin="round"/>
<clipPath id="clip_i3"><rect x="1510" y="166.4" width="163.9" height="173.6"/></clipPath>
<g clip-path="url(#clip_i3)">
<rect x="1510" y="166.4" width="163.9" height="173.6" fill="#6e6e6e"/>
<path d="M1561.7,164.9 L1561.7,171.2 Q1561.7,177.2 1557.7,179.5 A78,86 0 0 0 1517,255 A78,80 0 0 0 1558.7,325.8 Q1562.7,327.8 1562.7,333.8 L1562.7,341.5 L1627.3,341.5 L1627.3,333.8 Q1627.3,327.8 1631.3,325.8 A78,80 0 0 0 1673,255 A78,86 0 0 0 1631.3,178.9 Q1627.3,176.7 1627.3,170.7 L1627.3,164.9 Z" fill="#474747" stroke="#8a8a8a" stroke-width="10"/>
<path d="M1561.7,164.9 L1561.7,171.2 Q1561.7,177.2 1557.7,179.5 A78,86 0 0 0 1517,255 A78,80 0 0 0 1558.7,325.8 Q1562.7,327.8 1562.7,333.8 L1562.7,341.5 L1627.3,341.5 L1627.3,333.8 Q1627.3,327.8 1631.3,325.8 A78,80 0 0 0 1673,255 A78,86 0 0 0 1631.3,178.9 Q1627.3,176.7 1627.3,170.7 L1627.3,164.9 Z" fill="#474747" stroke="#141414" stroke-width="2.6"/>
<circle cx="1574.8" cy="170.2" r="11.1" fill="url(#dg3)" stroke="#141414" stroke-width="1.5"/>
<circle cx="1600.1" cy="169.2" r="11.1" fill="url(#dg3)" stroke="#141414" stroke-width="1.5"/>
<circle cx="1570.8" cy="187.4" r="12.2" fill="url(#dg3)" stroke="#141414" stroke-width="1.5"/>
<path d="M1570.4,195.9 Q1561,186.6 1566.7,179.8" fill="none" stroke="#3df03d" stroke-width="1.25" stroke-linecap="round" opacity="0.9"/>
<path d="M1578.9,190.1 Q1567.4,196.5 1562.9,184.1" fill="none" stroke="#3df03d" stroke-width="1.25" stroke-linecap="round" opacity="0.9"/>
<circle cx="1593" cy="182.3" r="12.2" fill="url(#dg3)" stroke="#141414" stroke-width="1.5"/>
<circle cx="1614.2" cy="186.3" r="12.9" fill="url(#dg3)" stroke="#141414" stroke-width="1.5"/>
<path d="M1607.9,192.8 Q1607.1,178.9 1620.1,179.5" fill="none" stroke="#3df03d" stroke-width="1.25" stroke-linecap="round" opacity="0.9"/>
<path d="M1605.2,187 Q1613.8,176.1 1623.2,187.1" fill="none" stroke="#3df03d" stroke-width="1.25" stroke-linecap="round" opacity="0.9"/>
<circle cx="1553.6" cy="204.5" r="12.9" fill="url(#dg3)" stroke="#141414" stroke-width="1.5"/>
<path d="M1547.6,211.3 Q1546.1,197.5 1562.2,201.8" fill="none" stroke="#3df03d" stroke-width="1.25" stroke-linecap="round" opacity="0.9"/>
<path d="M1556.4,213.1 Q1543.7,207.4 1557.5,196.4" fill="none" stroke="#3df03d" stroke-width="1.25" stroke-linecap="round" opacity="0.9"/>
<path d="M1545.1,201.4 Q1557.5,195 1561.7,200.6" fill="none" stroke="#3df03d" stroke-width="1.25" stroke-linecap="round" opacity="0.9"/>
<circle cx="1583.9" cy="205.5" r="12.9" fill="url(#dg3)" stroke="#141414" stroke-width="1.5"/>
<circle cx="1607.1" cy="208.6" r="12.9" fill="url(#dg3)" stroke="#141414" stroke-width="1.5"/>
<circle cx="1632.4" cy="207.6" r="12.9" fill="url(#dg3)" stroke="#141414" stroke-width="1.5"/>
<circle cx="1538.5" cy="225.7" r="13.8" fill="url(#dg3)" stroke="#141414" stroke-width="1.5"/>
<circle cx="1566.7" cy="223.7" r="13.8" fill="url(#dg3)" stroke="#141414" stroke-width="1.5"/>
<circle cx="1594" cy="227.7" r="13.3" fill="url(#dg3)" stroke="#141414" stroke-width="1.5"/>
<path d="M1590.3,236.3 Q1584.3,223.3 1598.2,219.4" fill="none" stroke="#3df03d" stroke-width="1.25" stroke-linecap="round" opacity="0.9"/>
<path d="M1586.2,232.8 Q1588.5,218.6 1602.4,223.6" fill="none" stroke="#3df03d" stroke-width="1.25" stroke-linecap="round" opacity="0.9"/>
<circle cx="1619.2" cy="230.8" r="13.8" fill="url(#dg3)" stroke="#141414" stroke-width="1.5"/>
<circle cx="1646.5" cy="227.7" r="13.8" fill="url(#dg3)" stroke="#141414" stroke-width="1.5"/>
<circle cx="1531.4" cy="252" r="13.8" fill="url(#dg3)" stroke="#141414" stroke-width="1.5"/>
<circle cx="1555.6" cy="245.9" r="12.9" fill="url(#dg3)" stroke="#141414" stroke-width="1.5"/>
<path d="M1551.6,254 Q1546.5,241.1 1556.1,236.9" fill="none" stroke="#3df03d" stroke-width="1.25" stroke-linecap="round" opacity="0.9"/>
<path d="M1558.2,237.3 Q1565.4,249.2 1556.4,254.9" fill="none" stroke="#3df03d" stroke-width="1.25" stroke-linecap="round" opacity="0.9"/>
<circle cx="1578.9" cy="242.9" r="12.2" fill="url(#dg3)" stroke="#141414" stroke-width="1.5"/>
<circle cx="1602.1" cy="251" r="12.9" fill="url(#dg3)" stroke="#141414" stroke-width="1.5"/>
<circle cx="1634.4" cy="251" r="13.8" fill="url(#dg3)" stroke="#141414" stroke-width="1.5"/>
<path d="M1632,241.6 Q1645.1,248.6 1631.6,260.2" fill="none" stroke="#3df03d" stroke-width="1.25" stroke-linecap="round" opacity="0.9"/>
<path d="M1626.3,245.7 Q1640.7,241.9 1642.9,255.6" fill="none" stroke="#3df03d" stroke-width="1.25" stroke-linecap="round" opacity="0.9"/>
<circle cx="1656.6" cy="246.9" r="10" fill="url(#dg3)" stroke="#141414" stroke-width="1.5"/>
<circle cx="1535.4" cy="279.2" r="13.3" fill="url(#dg3)" stroke="#141414" stroke-width="1.5"/>
<circle cx="1557.6" cy="271.2" r="12.9" fill="url(#dg3)" stroke="#141414" stroke-width="1.5"/>
<circle cx="1580.9" cy="265.1" r="12.9" fill="url(#dg3)" stroke="#141414" stroke-width="1.5"/>
<path d="M1589.1,261.5 Q1584.7,274.7 1573,269.5" fill="none" stroke="#3df03d" stroke-width="1.25" stroke-linecap="round" opacity="0.9"/>
<path d="M1587.4,258.9 Q1587.8,272.7 1580.8,274.1" fill="none" stroke="#3df03d" stroke-width="1.25" stroke-linecap="round" opacity="0.9"/>
<path d="M1572.6,268.8 Q1577,255.6 1589.8,263.6" fill="none" stroke="#3df03d" stroke-width="1.25" stroke-linecap="round" opacity="0.9"/>
<circle cx="1617.2" cy="268.1" r="13.3" fill="url(#dg3)" stroke="#141414" stroke-width="1.5"/>
<circle cx="1653.6" cy="270.2" r="13.8" fill="url(#dg3)" stroke="#141414" stroke-width="1.5"/>
<circle cx="1550.6" cy="300.4" r="13.3" fill="url(#dg3)" stroke="#141414" stroke-width="1.5"/>
<circle cx="1572.8" cy="290.3" r="13.3" fill="url(#dg3)" stroke="#141414" stroke-width="1.5"/>
<circle cx="1596" cy="280.3" r="12.9" fill="url(#dg3)" stroke="#141414" stroke-width="1.5"/>
<circle cx="1635.4" cy="281.3" r="11.1" fill="url(#dg3)" stroke="#141414" stroke-width="1.5"/>
<circle cx="1615.2" cy="294.4" r="13.3" fill="url(#dg3)" stroke="#141414" stroke-width="1.5"/>
<path d="M1624.1,297.2 Q1611.7,304.4 1609.9,286.7" fill="none" stroke="#3df03d" stroke-width="1.25" stroke-linecap="round" opacity="0.9"/>
<path d="M1623.6,298.5 Q1610.3,303.8 1607.6,288.9" fill="none" stroke="#3df03d" stroke-width="1.25" stroke-linecap="round" opacity="0.9"/>
<circle cx="1651.6" cy="289.3" r="8.4" fill="url(#dg3)" stroke="#141414" stroke-width="1.5"/>
<circle cx="1573.8" cy="317.6" r="13.3" fill="url(#dg3)" stroke="#141414" stroke-width="1.5"/>
<path d="M1577.8,326.1 Q1564,321.9 1576.8,308.8" fill="none" stroke="#3df03d" stroke-width="1.25" stroke-linecap="round" opacity="0.9"/>
<path d="M1565.2,314.1 Q1578.1,307.8 1579.4,325.1" fill="none" stroke="#3df03d" stroke-width="1.25" stroke-linecap="round" opacity="0.9"/>
<circle cx="1593" cy="305.5" r="12.9" fill="url(#dg3)" stroke="#141414" stroke-width="1.5"/>
<circle cx="1637.4" cy="304.5" r="12.9" fill="url(#dg3)" stroke="#141414" stroke-width="1.5"/>
<circle cx="1616.2" cy="319.6" r="13.3" fill="url(#dg3)" stroke="#141414" stroke-width="1.5"/>
<circle cx="1594" cy="328.7" r="12.2" fill="url(#dg3)" stroke="#141414" stroke-width="1.5"/>
<path d="M1585.4,328.8 Q1594.2,318.9 1602.2,331.3" fill="none" stroke="#3df03d" stroke-width="1.25" stroke-linecap="round" opacity="0.9"/>
<path d="M1590.1,321.1 Q1602.8,324.5 1600.4,334.4" fill="none" stroke="#3df03d" stroke-width="1.25" stroke-linecap="round" opacity="0.9"/>
<circle cx="1574.8" cy="335.8" r="11.1" fill="url(#dg3)" stroke="#141414" stroke-width="1.5"/>
<line x1="1511.2" x2="1526.3" y1="327.3" y2="327.3" stroke="#f2f2f2" stroke-width="1.3"/>
<text x="1518.8" y="326.1" font-size="3.2" fill="#eee" text-anchor="middle">15 µm</text>
</g>
<rect x="1507.8" y="164.2" width="168.3" height="178" fill="none" stroke="#162CF9" stroke-width="7.4" stroke-linejoin="round"/>
<clipPath id="clip_i4"><rect x="1761" y="166.4" width="163.9" height="173.6"/></clipPath>
<g clip-path="url(#clip_i4)">
<rect x="1761" y="166.4" width="163.9" height="173.6" fill="#6a6a6a"/>
<path d="M1814.7,164.9 L1814.7,167.9 Q1814.7,173.9 1810.7,175.9 A71,83 0 0 0 1770,251 A71,78 0 0 0 1810.7,321.5 Q1814.7,323.5 1814.7,329.5 L1814.7,341.5 L1871.3,341.5 L1871.3,327.5 Q1871.3,321.5 1875.3,319.3 A71,78 0 0 0 1912,251 A71,83 0 0 0 1873.2,177 Q1869.2,174.8 1869.2,168.8 L1869.2,164.9 Z" fill="#636363" stroke="#a8a8a8" stroke-width="10"/>
<path d="M1814.7,164.9 L1814.7,167.9 Q1814.7,173.9 1810.7,175.9 A71,83 0 0 0 1770,251 A71,78 0 0 0 1810.7,321.5 Q1814.7,323.5 1814.7,329.5 L1814.7,341.5 L1871.3,341.5 L1871.3,327.5 Q1871.3,321.5 1875.3,319.3 A71,78 0 0 0 1912,251 A71,83 0 0 0 1873.2,177 Q1869.2,174.8 1869.2,168.8 L1869.2,164.9 Z" fill="#636363" stroke="#141414" stroke-width="2.6"/>
<circle cx="1831.9" cy="174.2" r="11.7" fill="url(#dg4)" stroke="#141414" stroke-width="1.5"/>
<circle cx="1819.8" cy="195.4" r="12.1" fill="url(#dg4)" stroke="#141414" stroke-width="1.5"/>
<circle cx="1850.1" cy="192.4" r="12.1" fill="url(#dg4)" stroke="#141414" stroke-width="1.5"/>
<circle cx="1874.3" cy="203.5" r="11.7" fill="url(#dg4)" stroke="#141414" stroke-width="1.5"/>
<ellipse cx="1876" cy="205.9" rx="1.6" ry="1.1" fill="#3ef53e"/>
<circle cx="1806.6" cy="218.7" r="12.1" fill="url(#dg4)" stroke="#141414" stroke-width="1.5"/>
<circle cx="1833.9" cy="217.6" r="12.5" fill="url(#dg4)" stroke="#141414" stroke-width="1.5"/>
<circle cx="1860.2" cy="225.7" r="12.1" fill="url(#dg4)" stroke="#141414" stroke-width="1.5"/>
<circle cx="1891.5" cy="222.7" r="11.7" fill="url(#dg4)" stroke="#141414" stroke-width="1.5"/>
<circle cx="1794.5" cy="243.9" r="12.1" fill="url(#dg4)" stroke="#141414" stroke-width="1.5"/>
<circle cx="1821.8" cy="241.9" r="12.1" fill="url(#dg4)" stroke="#141414" stroke-width="1.5"/>
<ellipse cx="1823.6" cy="244.3" rx="1.6" ry="1.1" fill="#3ef53e"/>
<circle cx="1847" cy="248.9" r="12.1" fill="url(#dg4)" stroke="#141414" stroke-width="1.5"/>
<circle cx="1873.3" cy="248.9" r="11.7" fill="url(#dg4)" stroke="#141414" stroke-width="1.5"/>
<circle cx="1899.5" cy="248.9" r="11.7" fill="url(#dg4)" stroke="#141414" stroke-width="1.5"/>
<circle cx="1810.7" cy="267.1" r="12.1" fill="url(#dg4)" stroke="#141414" stroke-width="1.5"/>
<circle cx="1838.9" cy="275.2" r="12.5" fill="url(#dg4)" stroke="#141414" stroke-width="1.5"/>
<circle cx="1866.2" cy="274.2" r="11.7" fill="url(#dg4)" stroke="#141414" stroke-width="1.5"/>
<ellipse cx="1868" cy="276.5" rx="1.6" ry="1.1" fill="#3ef53e"/>
<circle cx="1894.5" cy="275.2" r="12.1" fill="url(#dg4)" stroke="#141414" stroke-width="1.5"/>
<circle cx="1800.6" cy="292.4" r="12.1" fill="url(#dg4)" stroke="#141414" stroke-width="1.5"/>
<circle cx="1826.8" cy="299.4" r="12.1" fill="url(#dg4)" stroke="#141414" stroke-width="1.5"/>
<circle cx="1854.1" cy="298.4" r="12.5" fill="url(#dg4)" stroke="#141414" stroke-width="1.5"/>
<circle cx="1880.3" cy="297.4" r="11.7" fill="url(#dg4)" stroke="#141414" stroke-width="1.5"/>
<circle cx="1855.1" cy="324.7" r="12.1" fill="url(#dg4)" stroke="#141414" stroke-width="1.5"/>
<circle cx="1833.9" cy="335.8" r="11.1" fill="url(#dg4)" stroke="#141414" stroke-width="1.5"/>
<line x1="1774.3" x2="1791.5" y1="328.1" y2="328.1" stroke="#f2f2f2" stroke-width="1.3"/>
<text x="1782.9" y="326.9" font-size="3.2" fill="#eee" text-anchor="middle">15 µm</text>
</g>
<rect x="1758.8" y="164.2" width="168.3" height="178" fill="none" stroke="#ED7D31" stroke-width="7.4" stroke-linejoin="round"/>
<defs><radialGradient id="cg1"><stop offset="0" stop-color="#8a8a8a"/><stop offset="0.7" stop-color="#838383"/><stop offset="0.88" stop-color="#6a6a6a"/><stop offset="0.96" stop-color="#3a3a3a"/><stop offset="1" stop-color="#1a1a1a"/></radialGradient><radialGradient id="cg2"><stop offset="0" stop-color="#6c6c6c"/><stop offset="0.6" stop-color="#747474"/><stop offset="0.8" stop-color="#555"/><stop offset="0.9" stop-color="#1c1c1c"/><stop offset="1" stop-color="#3a3a3a"/></radialGradient><radialGradient id="cg3"><stop offset="0" stop-color="#6a6a6a"/><stop offset="0.55" stop-color="#606060"/><stop offset="0.8" stop-color="#2e2e2e"/><stop offset="1" stop-color="#1a1a1a"/></radialGradient><radialGradient id="cg4"><stop offset="0" stop-color="#676767"/><stop offset="0.7" stop-color="#6e6e6e"/><stop offset="0.85" stop-color="#5a5a5a"/><stop offset="0.95" stop-color="#262626"/><stop offset="1" stop-color="#111"/></radialGradient></defs>
<clipPath id="cc_indiv"><circle cx="1081.8" cy="450.4" r="64.2"/></clipPath>
<g clip-path="url(#cc_indiv)">
<circle cx="1081.8" cy="450.4" r="64.2" fill="url(#cg1)"/>
<g fill="#d8d8d8" opacity="0.3"><ellipse cx="1040.2" cy="463.2" rx="8.5" ry="1.7" transform="rotate(91 1040.2 463.2)"/><ellipse cx="1060.5" cy="437.3" rx="6.1" ry="1.9" transform="rotate(142 1060.5 437.3)"/><ellipse cx="1108.4" cy="468.3" rx="3.5" ry="2.2" transform="rotate(124 1108.4 468.3)"/><ellipse cx="1137.5" cy="465.4" rx="8.8" ry="2" transform="rotate(110 1137.5 465.4)"/><ellipse cx="1085.7" cy="456.4" rx="6.2" ry="1.1" transform="rotate(34 1085.7 456.4)"/><ellipse cx="1082.3" cy="460.5" rx="5.8" ry="1.7" transform="rotate(151 1082.3 460.5)"/><ellipse cx="1035.6" cy="444.8" rx="6" ry="2" transform="rotate(82 1035.6 444.8)"/><ellipse cx="1071.6" cy="507.6" rx="9" ry="2.3" transform="rotate(127 1071.6 507.6)"/><ellipse cx="1070.7" cy="476" rx="4.7" ry="1.1" transform="rotate(137 1070.7 476)"/><ellipse cx="1038.4" cy="481.8" rx="5.3" ry="2.4" transform="rotate(152 1038.4 481.8)"/><ellipse cx="1108.5" cy="450.5" rx="8.5" ry="1.7" transform="rotate(176 1108.5 450.5)"/><ellipse cx="1069.2" cy="459.8" rx="6.8" ry="2.2" transform="rotate(48 1069.2 459.8)"/><ellipse cx="1110.5" cy="467.9" rx="8.8" ry="2.1" transform="rotate(21 1110.5 467.9)"/><ellipse cx="1082.2" cy="468.9" rx="3.4" ry="2.2" transform="rotate(31 1082.2 468.9)"/><ellipse cx="1045.5" cy="436.2" rx="4.1" ry="2.1" transform="rotate(23 1045.5 436.2)"/><ellipse cx="1069.5" cy="434.8" rx="5.5" ry="1.3" transform="rotate(48 1069.5 434.8)"/><ellipse cx="1133.1" cy="440.9" rx="4.8" ry="2.3" transform="rotate(37 1133.1 440.9)"/><ellipse cx="1039.4" cy="483.6" rx="6.9" ry="1.2" transform="rotate(178 1039.4 483.6)"/><ellipse cx="1088.6" cy="479.2" rx="7.6" ry="1.5" transform="rotate(53 1088.6 479.2)"/><ellipse cx="1097.4" cy="458.2" rx="6.5" ry="1.4" transform="rotate(108 1097.4 458.2)"/><ellipse cx="1054.7" cy="478.7" rx="8.8" ry="1.7" transform="rotate(103 1054.7 478.7)"/><ellipse cx="1098.4" cy="431.9" rx="3.9" ry="2.4" transform="rotate(147 1098.4 431.9)"/><ellipse cx="1081.9" cy="475.8" rx="7.4" ry="2.4" transform="rotate(35 1081.9 475.8)"/><ellipse cx="1133.8" cy="433.6" rx="6.6" ry="1.6" transform="rotate(18 1133.8 433.6)"/><ellipse cx="1137.2" cy="464.1" rx="4.4" ry="2.1" transform="rotate(46 1137.2 464.1)"/><ellipse cx="1101.9" cy="410.2" rx="4.8" ry="1.3" transform="rotate(129 1101.9 410.2)"/><ellipse cx="1107.1" cy="462" rx="6.4" ry="2.3" transform="rotate(110 1107.1 462)"/><ellipse cx="1071.3" cy="505.1" rx="4.2" ry="1" transform="rotate(48 1071.3 505.1)"/><ellipse cx="1068.3" cy="455.2" rx="4.1" ry="1.6" transform="rotate(102 1068.3 455.2)"/><ellipse cx="1105.5" cy="476.2" rx="8.3" ry="2.5" transform="rotate(118 1105.5 476.2)"/><ellipse cx="1065.7" cy="408.9" rx="3.8" ry="1.1" transform="rotate(3 1065.7 408.9)"/><ellipse cx="1123" cy="424.3" rx="8.8" ry="1" transform="rotate(114 1123 424.3)"/><ellipse cx="1032.4" cy="455.9" rx="4.9" ry="2.5" transform="rotate(13 1032.4 455.9)"/><ellipse cx="1033.9" cy="436.1" rx="8.4" ry="2.1" transform="rotate(126 1033.9 436.1)"/><ellipse cx="1096.7" cy="396.8" rx="5.1" ry="2" transform="rotate(162 1096.7 396.8)"/><ellipse cx="1107.7" cy="423.2" rx="7.7" ry="2.3" transform="rotate(103 1107.7 423.2)"/><ellipse cx="1056.3" cy="425" rx="6.5" ry="1.9" transform="rotate(14 1056.3 425)"/><ellipse cx="1044.7" cy="405.8" rx="8.3" ry="2.1" transform="rotate(69 1044.7 405.8)"/><ellipse cx="1077.6" cy="406.2" rx="5.6" ry="2.3" transform="rotate(15 1077.6 406.2)"/><ellipse cx="1081.8" cy="440.4" rx="6.6" ry="1.7" transform="rotate(41 1081.8 440.4)"/></g>
<g fill="#38f038" opacity="0.95"><ellipse cx="1068" cy="409.5" rx="6.2" ry="1.5" transform="rotate(2 1068 409.5)"/><ellipse cx="1110" cy="501.4" rx="6" ry="1.6" transform="rotate(119 1110 501.4)"/><ellipse cx="1094.6" cy="488.5" rx="6" ry="1.6" transform="rotate(104 1094.6 488.5)"/><ellipse cx="1072.6" cy="471" rx="5.8" ry="2" transform="rotate(128 1072.6 471)"/><circle cx="1051.2" cy="460.2" r="1.9"/><ellipse cx="1051.5" cy="419.8" rx="5.8" ry="2.1" transform="rotate(81 1051.5 419.8)"/><ellipse cx="1091.5" cy="455.3" rx="2.4" ry="1.9" transform="rotate(102 1091.5 455.3)"/><circle cx="1096.1" cy="424.2" r="1.5"/><ellipse cx="1053.7" cy="420.7" rx="5" ry="1.9" transform="rotate(172 1053.7 420.7)"/><ellipse cx="1070.9" cy="425.4" rx="3" ry="1.3" transform="rotate(84 1070.9 425.4)"/><circle cx="1076" cy="425.2" r="1.8"/><ellipse cx="1067.4" cy="408.6" rx="5.5" ry="1.6" transform="rotate(142 1067.4 408.6)"/><ellipse cx="1096.8" cy="440.4" rx="5.3" ry="1.4" transform="rotate(81 1096.8 440.4)"/><ellipse cx="1040.7" cy="409" rx="4.6" ry="2" transform="rotate(143 1040.7 409)"/><circle cx="1120.9" cy="436.1" r="2.3"/><ellipse cx="1102.2" cy="405.8" rx="3.1" ry="2" transform="rotate(176 1102.2 405.8)"/><ellipse cx="1126.2" cy="444" rx="6.1" ry="2" transform="rotate(62 1126.2 444)"/><ellipse cx="1117.1" cy="470.6" rx="4.3" ry="1.3" transform="rotate(145 1117.1 470.6)"/><circle cx="1054.1" cy="497.2" r="1.6"/><ellipse cx="1030" cy="445" rx="5.2" ry="2.1" transform="rotate(88 1030 445)"/><circle cx="1098.8" cy="444.8" r="2"/><ellipse cx="1068.8" cy="501" rx="5.8" ry="1.7" transform="rotate(56 1068.8 501)"/><ellipse cx="1040.5" cy="488.6" rx="3.1" ry="2" transform="rotate(174 1040.5 488.6)"/><circle cx="1036" cy="443.4" r="2"/><circle cx="1034.2" cy="449.5" r="2.6"/><ellipse cx="1043.3" cy="446.5" rx="4.6" ry="1.7" transform="rotate(124 1043.3 446.5)"/><ellipse cx="1060.3" cy="454.1" rx="5.7" ry="2" transform="rotate(85 1060.3 454.1)"/><ellipse cx="1070.8" cy="474.8" rx="6.2" ry="1.4" transform="rotate(140 1070.8 474.8)"/><ellipse cx="1068.4" cy="418.4" rx="4.9" ry="1.4" transform="rotate(131 1068.4 418.4)"/><ellipse cx="1053.8" cy="478.1" rx="2.9" ry="1.5" transform="rotate(113 1053.8 478.1)"/><ellipse cx="1053.1" cy="416.4" rx="4.8" ry="2" transform="rotate(41 1053.1 416.4)"/><ellipse cx="1078.6" cy="395.4" rx="3.6" ry="1.6" transform="rotate(166 1078.6 395.4)"/><circle cx="1094" cy="510.3" r="1.7"/><circle cx="1077.2" cy="419.6" r="2.4"/><circle cx="1033.9" cy="476.1" r="1.9"/><circle cx="1078.6" cy="442.9" r="2.2"/><circle cx="1132.9" cy="418.6" r="2"/><ellipse cx="1084" cy="407.1" rx="3" ry="1.4" transform="rotate(19 1084 407.1)"/><ellipse cx="1126" cy="461" rx="2.8" ry="1.4" transform="rotate(36 1126 461)"/><ellipse cx="1114.5" cy="399" rx="2.6" ry="1.3" transform="rotate(171 1114.5 399)"/><ellipse cx="1029.8" cy="463" rx="4.2" ry="1.7" transform="rotate(77 1029.8 463)"/><ellipse cx="1076.1" cy="446.2" rx="5.8" ry="1.4" transform="rotate(81 1076.1 446.2)"/><circle cx="1079.2" cy="411.5" r="1.6"/><ellipse cx="1074.2" cy="449.8" rx="5.6" ry="1.9" transform="rotate(154 1074.2 449.8)"/><ellipse cx="1055" cy="422.1" rx="4.4" ry="2.1" transform="rotate(144 1055 422.1)"/><ellipse cx="1078.8" cy="508.7" rx="5.7" ry="1.6" transform="rotate(161 1078.8 508.7)"/><ellipse cx="1119" cy="415.4" rx="5.5" ry="1.6" transform="rotate(130 1119 415.4)"/><circle cx="1114.1" cy="465.7" r="1.8"/><circle cx="1050.7" cy="413.4" r="2.5"/><ellipse cx="1063.9" cy="419.7" rx="4.6" ry="1.7" transform="rotate(70 1063.9 419.7)"/><ellipse cx="1130.8" cy="450.4" rx="6.4" ry="1.3" transform="rotate(110 1130.8 450.4)"/><ellipse cx="1079.6" cy="419.5" rx="2.4" ry="1.5" transform="rotate(67 1079.6 419.5)"/><ellipse cx="1106.8" cy="468.2" rx="4.4" ry="2.1" transform="rotate(102 1106.8 468.2)"/><circle cx="1130.7" cy="448.9" r="2.1"/><ellipse cx="1082.6" cy="437.4" rx="2.9" ry="1.7" transform="rotate(30 1082.6 437.4)"/><circle cx="1034" cy="451.7" r="2.5"/><ellipse cx="1042.8" cy="471.6" rx="3.8" ry="1.5" transform="rotate(117 1042.8 471.6)"/><ellipse cx="1051.5" cy="438.3" rx="3.5" ry="1.3" transform="rotate(44 1051.5 438.3)"/><ellipse cx="1105.1" cy="456.8" rx="6.1" ry="1.9" transform="rotate(9 1105.1 456.8)"/><ellipse cx="1115.1" cy="428" rx="6.4" ry="1.5" transform="rotate(94 1115.1 428)"/><ellipse cx="1129.8" cy="430.4" rx="5.7" ry="1.8" transform="rotate(20 1129.8 430.4)"/><circle cx="1052.4" cy="421.3" r="1.5"/><ellipse cx="1060.6" cy="446.6" rx="5.1" ry="1.7" transform="rotate(47 1060.6 446.6)"/><ellipse cx="1047.3" cy="430.8" rx="4.5" ry="2.1" transform="rotate(171 1047.3 430.8)"/><circle cx="1078.9" cy="420.7" r="2.5"/><ellipse cx="1092.1" cy="403.1" rx="3.4" ry="1.8" transform="rotate(101 1092.1 403.1)"/><ellipse cx="1041" cy="423.9" rx="3" ry="1.5" transform="rotate(176 1041 423.9)"/><ellipse cx="1067.8" cy="436.7" rx="2.5" ry="1.4" transform="rotate(121 1067.8 436.7)"/><ellipse cx="1035.6" cy="435.2" rx="4.3" ry="1.5" transform="rotate(61 1035.6 435.2)"/><circle cx="1080" cy="394.4" r="1.5"/><ellipse cx="1099.4" cy="405.4" rx="3.1" ry="1.6" transform="rotate(46 1099.4 405.4)"/><ellipse cx="1095.5" cy="415.8" rx="6.5" ry="1.6" transform="rotate(98 1095.5 415.8)"/><ellipse cx="1080.4" cy="391.7" rx="3.8" ry="1.4" transform="rotate(157 1080.4 391.7)"/><ellipse cx="1097.3" cy="458.7" rx="5.1" ry="1.5" transform="rotate(139 1097.3 458.7)"/><circle cx="1106.9" cy="463.4" r="1.8"/><circle cx="1073.8" cy="400" r="1.6"/><ellipse cx="1049.1" cy="491" rx="2.7" ry="1.9" transform="rotate(102 1049.1 491)"/><ellipse cx="1133.5" cy="421.3" rx="5.7" ry="1.5" transform="rotate(57 1133.5 421.3)"/><ellipse cx="1034" cy="485.3" rx="3.3" ry="1.6" transform="rotate(65 1034 485.3)"/><ellipse cx="1056.7" cy="479.5" rx="3" ry="1.8" transform="rotate(143 1056.7 479.5)"/><ellipse cx="1027.6" cy="436.3" rx="3" ry="1.9" transform="rotate(158 1027.6 436.3)"/><ellipse cx="1080" cy="459.3" rx="4.5" ry="1.8" transform="rotate(173 1080 459.3)"/><circle cx="1049.9" cy="405.8" r="2.1"/><circle cx="1086" cy="433.2" r="2.3"/><ellipse cx="1096.1" cy="439.8" rx="2.8" ry="1.9" transform="rotate(116 1096.1 439.8)"/><ellipse cx="1082.6" cy="479.1" rx="5.5" ry="1.6" transform="rotate(60 1082.6 479.1)"/><ellipse cx="1131" cy="440.5" rx="5.3" ry="1.9" transform="rotate(164 1131 440.5)"/><ellipse cx="1034.7" cy="480" rx="5.9" ry="1.9" transform="rotate(150 1034.7 480)"/><ellipse cx="1127.6" cy="411.8" rx="4.5" ry="1.9" transform="rotate(144 1127.6 411.8)"/><circle cx="1046.8" cy="469.2" r="2.3"/><ellipse cx="1096.4" cy="447.6" rx="2.7" ry="1.8" transform="rotate(139 1096.4 447.6)"/><ellipse cx="1088.4" cy="464.2" rx="6.1" ry="1.3" transform="rotate(19 1088.4 464.2)"/><circle cx="1072.2" cy="404.2" r="1.6"/><ellipse cx="1076.9" cy="475.3" rx="4.6" ry="2" transform="rotate(86 1076.9 475.3)"/><ellipse cx="1078" cy="507.9" rx="4.6" ry="2.1" transform="rotate(86 1078 507.9)"/><ellipse cx="1084.3" cy="463.8" rx="5.6" ry="1.6" transform="rotate(94 1084.3 463.8)"/><ellipse cx="1049.9" cy="447.2" rx="5" ry="1.5" transform="rotate(1 1049.9 447.2)"/><ellipse cx="1045" cy="456.8" rx="5.3" ry="1.8" transform="rotate(28 1045 456.8)"/><ellipse cx="1111.7" cy="418.2" rx="6.5" ry="1.5" transform="rotate(96 1111.7 418.2)"/><ellipse cx="1106.2" cy="399.7" rx="2.6" ry="1.5" transform="rotate(128 1106.2 399.7)"/><ellipse cx="1116.5" cy="474.7" rx="4.7" ry="2" transform="rotate(54 1116.5 474.7)"/><ellipse cx="1091.5" cy="412.1" rx="2.6" ry="2" transform="rotate(37 1091.5 412.1)"/><circle cx="1039.1" cy="438.5" r="2.4"/><circle cx="1069" cy="482" r="1.8"/><ellipse cx="1031.1" cy="461" rx="5.2" ry="1.4" transform="rotate(70 1031.1 461)"/><ellipse cx="1023.3" cy="464.7" rx="5" ry="1.3" transform="rotate(67 1023.3 464.7)"/><ellipse cx="1074.4" cy="421.5" rx="4.2" ry="1.3" transform="rotate(178 1074.4 421.5)"/><ellipse cx="1090.3" cy="423.9" rx="3.4" ry="1.6" transform="rotate(97 1090.3 423.9)"/><circle cx="1066.3" cy="423.6" r="2.3"/><ellipse cx="1053.3" cy="502.6" rx="3.6" ry="2" transform="rotate(16 1053.3 502.6)"/><ellipse cx="1093.7" cy="464.9" rx="3" ry="1.6" transform="rotate(150 1093.7 464.9)"/><circle cx="1066.5" cy="440.3" r="1.6"/><ellipse cx="1116.9" cy="431.3" rx="5" ry="1.9" transform="rotate(147 1116.9 431.3)"/><ellipse cx="1055.2" cy="473.5" rx="2.3" ry="1.6" transform="rotate(125 1055.2 473.5)"/><ellipse cx="1135.8" cy="444.2" rx="2.3" ry="1.6" transform="rotate(61 1135.8 444.2)"/></g>
</g>
<circle cx="1081.8" cy="450.4" r="64.2" fill="none" stroke="#000" stroke-width="4.2"/>
<clipPath id="cc_clus"><circle cx="1340.2" cy="449.5" r="64.9"/></clipPath>
<g clip-path="url(#cc_clus)">
<circle cx="1340.2" cy="449.5" r="64.9" fill="url(#cg2)"/>
<g fill="#44f044" opacity="0.95"><ellipse cx="1309.7" cy="447.4" rx="2.9" ry="1.9" transform="rotate(141 1309.7 447.4)"/><ellipse cx="1315.4" cy="463.4" rx="2.4" ry="2.3" transform="rotate(162 1315.4 463.4)"/><ellipse cx="1306.3" cy="456" rx="3.3" ry="1.4" transform="rotate(128 1306.3 456)"/><ellipse cx="1320.8" cy="459.6" rx="3.8" ry="2.4" transform="rotate(35 1320.8 459.6)"/><ellipse cx="1319.4" cy="463.5" rx="2.5" ry="1.3" transform="rotate(44 1319.4 463.5)"/><ellipse cx="1307.2" cy="467.2" rx="2.8" ry="2.5" transform="rotate(65 1307.2 467.2)"/><ellipse cx="1303.5" cy="448.8" rx="4.4" ry="1.4" transform="rotate(162 1303.5 448.8)"/><ellipse cx="1306.1" cy="462.9" rx="3.4" ry="1.6" transform="rotate(163 1306.1 462.9)"/><ellipse cx="1320.9" cy="469.5" rx="3.5" ry="1.4" transform="rotate(148 1320.9 469.5)"/><ellipse cx="1297.7" cy="475" rx="2.6" ry="2" transform="rotate(149 1297.7 475)"/><ellipse cx="1294.3" cy="463.8" rx="2.2" ry="1.2" transform="rotate(32 1294.3 463.8)"/><ellipse cx="1320.8" cy="473.6" rx="3.6" ry="1.6" transform="rotate(120 1320.8 473.6)"/><ellipse cx="1312.5" cy="456.2" rx="3.5" ry="2.3" transform="rotate(2 1312.5 456.2)"/><ellipse cx="1294.8" cy="461.2" rx="2.4" ry="1.7" transform="rotate(102 1294.8 461.2)"/><ellipse cx="1293.9" cy="463" rx="2.7" ry="2" transform="rotate(59 1293.9 463)"/><ellipse cx="1309.4" cy="445.2" rx="3.7" ry="1.4" transform="rotate(172 1309.4 445.2)"/><ellipse cx="1308" cy="459.6" rx="3" ry="2.1" transform="rotate(124 1308 459.6)"/><ellipse cx="1313.2" cy="468.3" rx="3.2" ry="2.6" transform="rotate(150 1313.2 468.3)"/><ellipse cx="1316.4" cy="456.6" rx="3.1" ry="2" transform="rotate(162 1316.4 456.6)"/><ellipse cx="1305.6" cy="461.7" rx="3.1" ry="2.5" transform="rotate(57 1305.6 461.7)"/><ellipse cx="1290" cy="470.2" rx="4.3" ry="2.2" transform="rotate(107 1290 470.2)"/><ellipse cx="1313" cy="453.6" rx="3.5" ry="1.3" transform="rotate(22 1313 453.6)"/><ellipse cx="1302.9" cy="461.3" rx="3" ry="1.3" transform="rotate(125 1302.9 461.3)"/><ellipse cx="1305.6" cy="452.3" rx="2.8" ry="1.8" transform="rotate(42 1305.6 452.3)"/><ellipse cx="1290.5" cy="476.3" rx="4.4" ry="2.1" transform="rotate(155 1290.5 476.3)"/><ellipse cx="1302.1" cy="471.4" rx="2.6" ry="2.2" transform="rotate(102 1302.1 471.4)"/><ellipse cx="1318" cy="446.2" rx="4" ry="1.4" transform="rotate(96 1318 446.2)"/><ellipse cx="1319.6" cy="442.8" rx="2.6" ry="1.6" transform="rotate(58 1319.6 442.8)"/><ellipse cx="1290.3" cy="475.8" rx="4" ry="1.8" transform="rotate(64 1290.3 475.8)"/><ellipse cx="1307.5" cy="445.7" rx="2.1" ry="2.5" transform="rotate(55 1307.5 445.7)"/><ellipse cx="1304.6" cy="475.3" rx="4.4" ry="1.9" transform="rotate(37 1304.6 475.3)"/><ellipse cx="1297.9" cy="475.8" rx="4.2" ry="1.5" transform="rotate(150 1297.9 475.8)"/><ellipse cx="1299.9" cy="460.7" rx="2.4" ry="2.4" transform="rotate(179 1299.9 460.7)"/><ellipse cx="1294.9" cy="466.6" rx="2.5" ry="2.4" transform="rotate(9 1294.9 466.6)"/><ellipse cx="1291.7" cy="470" rx="2.8" ry="2.5" transform="rotate(156 1291.7 470)"/><ellipse cx="1311.7" cy="448.1" rx="3.7" ry="2.5" transform="rotate(80 1311.7 448.1)"/><ellipse cx="1290.8" cy="453.6" rx="2.8" ry="2.2" transform="rotate(35 1290.8 453.6)"/><ellipse cx="1294.2" cy="453.6" rx="3.7" ry="2.3" transform="rotate(67 1294.2 453.6)"/><ellipse cx="1310" cy="473.1" rx="3.5" ry="1.5" transform="rotate(54 1310 473.1)"/><ellipse cx="1318.8" cy="464.8" rx="2.7" ry="2.1" transform="rotate(16 1318.8 464.8)"/><ellipse cx="1320.6" cy="457.1" rx="3.3" ry="1.9" transform="rotate(8 1320.6 457.1)"/><ellipse cx="1308" cy="453.5" rx="2.6" ry="2.3" transform="rotate(15 1308 453.5)"/><ellipse cx="1297.6" cy="470.3" rx="2.6" ry="1.6" transform="rotate(98 1297.6 470.3)"/><ellipse cx="1294.3" cy="475.4" rx="4.5" ry="1.2" transform="rotate(83 1294.3 475.4)"/><ellipse cx="1313" cy="456.2" rx="4.3" ry="1.9" transform="rotate(32 1313 456.2)"/><ellipse cx="1306.5" cy="465.6" rx="2.9" ry="2.1" transform="rotate(140 1306.5 465.6)"/><ellipse cx="1305.3" cy="461.1" rx="4.1" ry="2.2" transform="rotate(93 1305.3 461.1)"/><ellipse cx="1319.6" cy="448.5" rx="3.9" ry="1.4" transform="rotate(109 1319.6 448.5)"/><ellipse cx="1296" cy="460.1" rx="3.9" ry="2.3" transform="rotate(142 1296 460.1)"/><ellipse cx="1296" cy="461.7" rx="2.6" ry="2" transform="rotate(89 1296 461.7)"/><ellipse cx="1289.4" cy="466.1" rx="3.8" ry="2" transform="rotate(157 1289.4 466.1)"/><ellipse cx="1294.1" cy="450.8" rx="2" ry="1.9" transform="rotate(78 1294.1 450.8)"/><ellipse cx="1302.8" cy="453.4" rx="4" ry="1.3" transform="rotate(163 1302.8 453.4)"/><ellipse cx="1307" cy="462.2" rx="4" ry="1.5" transform="rotate(26 1307 462.2)"/><ellipse cx="1298.5" cy="446.7" rx="2.8" ry="2.1" transform="rotate(94 1298.5 446.7)"/><ellipse cx="1296.9" cy="464.9" rx="2.2" ry="2.3" transform="rotate(30 1296.9 464.9)"/><ellipse cx="1296.6" cy="450.8" rx="3.7" ry="2.4" transform="rotate(141 1296.6 450.8)"/><ellipse cx="1290.2" cy="459.8" rx="2.9" ry="1.5" transform="rotate(174 1290.2 459.8)"/><ellipse cx="1289.6" cy="462.5" rx="3.9" ry="2.6" transform="rotate(26 1289.6 462.5)"/><ellipse cx="1303.2" cy="469.3" rx="2.1" ry="1.5" transform="rotate(160 1303.2 469.3)"/><ellipse cx="1324.3" cy="476.1" rx="2.7" ry="1.8" transform="rotate(13 1324.3 476.1)"/><ellipse cx="1320.4" cy="487.9" rx="3.9" ry="2.2" transform="rotate(41 1320.4 487.9)"/><ellipse cx="1328.3" cy="477.2" rx="2.6" ry="1.8" transform="rotate(167 1328.3 477.2)"/><ellipse cx="1332.3" cy="472" rx="4.5" ry="2.1" transform="rotate(7 1332.3 472)"/><ellipse cx="1333.7" cy="476.7" rx="2.1" ry="1.7" transform="rotate(125 1333.7 476.7)"/><ellipse cx="1350.3" cy="469.1" rx="4.2" ry="1.8" transform="rotate(70 1350.3 469.1)"/><ellipse cx="1349.5" cy="465.8" rx="4" ry="1.5" transform="rotate(62 1349.5 465.8)"/><ellipse cx="1325.8" cy="478.2" rx="2.4" ry="1.5" transform="rotate(38 1325.8 478.2)"/><ellipse cx="1336" cy="470" rx="3.1" ry="2.6" transform="rotate(122 1336 470)"/><ellipse cx="1350.3" cy="462.6" rx="3" ry="1.3" transform="rotate(124 1350.3 462.6)"/><ellipse cx="1332.3" cy="470.9" rx="2" ry="1.5" transform="rotate(47 1332.3 470.9)"/><ellipse cx="1333.3" cy="481.5" rx="3.8" ry="1.6" transform="rotate(64 1333.3 481.5)"/><ellipse cx="1324.7" cy="485.2" rx="2.9" ry="2.3" transform="rotate(130 1324.7 485.2)"/><ellipse cx="1351.9" cy="458.8" rx="2.8" ry="1.7" transform="rotate(14 1351.9 458.8)"/><ellipse cx="1351" cy="464.3" rx="3.9" ry="1.9" transform="rotate(9 1351 464.3)"/><ellipse cx="1333.4" cy="469.9" rx="2.1" ry="1.4" transform="rotate(107 1333.4 469.9)"/><ellipse cx="1320.3" cy="476.4" rx="3.1" ry="2" transform="rotate(24 1320.3 476.4)"/><ellipse cx="1344.6" cy="465.8" rx="3.8" ry="2.1" transform="rotate(26 1344.6 465.8)"/><ellipse cx="1326.6" cy="473.3" rx="3.8" ry="1.8" transform="rotate(69 1326.6 473.3)"/><ellipse cx="1350.4" cy="462.9" rx="2.7" ry="1.7" transform="rotate(38 1350.4 462.9)"/><ellipse cx="1320.7" cy="471.3" rx="3.6" ry="2" transform="rotate(145 1320.7 471.3)"/><ellipse cx="1354.3" cy="462.5" rx="3.7" ry="2.5" transform="rotate(38 1354.3 462.5)"/><ellipse cx="1344" cy="472.9" rx="4.4" ry="2.4" transform="rotate(42 1344 472.9)"/><ellipse cx="1342" cy="463.9" rx="3.1" ry="1.7" transform="rotate(10 1342 463.9)"/><ellipse cx="1333" cy="471.6" rx="3.2" ry="1.6" transform="rotate(28 1333 471.6)"/><ellipse cx="1333.7" cy="473.8" rx="2.4" ry="2.1" transform="rotate(43 1333.7 473.8)"/><ellipse cx="1322.5" cy="476" rx="3.1" ry="1.4" transform="rotate(104 1322.5 476)"/><ellipse cx="1344.4" cy="470.8" rx="3.8" ry="1.2" transform="rotate(70 1344.4 470.8)"/><ellipse cx="1332.3" cy="467.3" rx="3" ry="1.3" transform="rotate(89 1332.3 467.3)"/><ellipse cx="1340.3" cy="471" rx="2.8" ry="1.6" transform="rotate(4 1340.3 471)"/><ellipse cx="1331.7" cy="481.7" rx="3.4" ry="1.6" transform="rotate(120 1331.7 481.7)"/><ellipse cx="1325.9" cy="476.8" rx="3.5" ry="2.5" transform="rotate(65 1325.9 476.8)"/><ellipse cx="1339.9" cy="479.2" rx="3.9" ry="2.1" transform="rotate(111 1339.9 479.2)"/><ellipse cx="1334" cy="472.6" rx="2.7" ry="2.4" transform="rotate(158 1334 472.6)"/><ellipse cx="1373.2" cy="492.5" rx="13" ry="5.5" transform="rotate(-28 1373.2 492.5)"/><ellipse cx="1327.7" cy="499.5" rx="3" ry="3.6"/></g>
</g>
<circle cx="1340.2" cy="449.5" r="64.9" fill="none" stroke="#007000" stroke-width="3.6"/>
<clipPath id="cc_chain"><circle cx="1598.5" cy="449.5" r="64.4"/></clipPath>
<g clip-path="url(#cc_chain)">
<circle cx="1598.5" cy="449.5" r="64.4" fill="url(#cg3)"/>
<rect x="1552.5" y="409.5" width="92" height="82" rx="30" fill="#6a6a6a" transform="rotate(-30 1598.5 449.5)" opacity="0.95"/>
<g fill="none" stroke="#4cdc4c" stroke-width="3.4" stroke-linecap="round" stroke-linejoin="round" opacity="0.95"><path d="M1551.5,450 C1552.5,467.5 1560.5,476.5 1574.5,478 S1596.5,473.5 1606,467 S1628.5,457.5 1643,459"/><path d="M1643,459 C1648.5,449.5 1645.5,427.5 1632.5,418.5 S1620.5,411.5 1615.5,411.5"/><path d="M1609,412.5 C1598.5,416.5 1592.5,421.5 1584.5,427.5 S1568.5,433.5 1560.5,439.5 L1551.5,450"/><polyline points="1593.8,431.5 1618.5,448.5 1641.5,448.5"/><polyline points="1587.5,425.5 1577,445.5"/><polyline points="1551.5,450 1570.5,448.5"/><polyline points="1638.5,429.5 1644.5,441.5 1642.5,459.5"/></g>
</g>
<circle cx="1598.5" cy="449.5" r="64.4" fill="none" stroke="#162CF9" stroke-width="3.6"/>
<clipPath id="cc_clump"><circle cx="1848.3" cy="450" r="64.2"/></clipPath>
<g clip-path="url(#cc_clump)">
<circle cx="1848.3" cy="450" r="64.2" fill="url(#cg4)"/>
<ellipse cx="1879.3" cy="461" rx="6.5" ry="9.5" fill="#4cd24c" transform="rotate(25 1879.3 461)"/>
<ellipse cx="1877.3" cy="464" rx="2.5" ry="2" fill="#9adf9a" opacity="0.7"/>
</g>
<circle cx="1848.3" cy="450" r="64.2" fill="none" stroke="#ED7D31" stroke-width="3.6"/>
<text x="1007" y="101.5" font-size="37.3" font-weight="bold" textLength="38.16" lengthAdjust="spacingAndGlyphs">Ca</text>
<text x="1045.16" y="90.2" font-size="24.4" font-weight="bold" textLength="24.52" lengthAdjust="spacingAndGlyphs">2+</text>
<text x="1069.68" y="101.5" font-size="37.3" font-weight="bold" textLength="73.34" lengthAdjust="spacingAndGlyphs">-free</text>
<text x="1299.7" y="101.5" font-size="37.3" font-weight="bold" textLength="38.16" lengthAdjust="spacingAndGlyphs">Ca</text>
<text x="1337.86" y="109.6" font-size="24.4" font-weight="bold" textLength="41.19" lengthAdjust="spacingAndGlyphs">Low</text>
<text x="1562.8" y="101.5" font-size="37.3" font-weight="bold" textLength="38.16" lengthAdjust="spacingAndGlyphs">Ca</text>
<text x="1600.96" y="109.6" font-size="24.4" font-weight="bold" textLength="27.83" lengthAdjust="spacingAndGlyphs">Int</text>
<text x="1804.7" y="101.5" font-size="37.3" font-weight="bold" textLength="38.16" lengthAdjust="spacingAndGlyphs">Ca</text>
<text x="1842.86" y="109.6" font-size="24.4" font-weight="bold" textLength="46.05" lengthAdjust="spacingAndGlyphs">High</text>
<text x="809.9" y="142" font-size="37.3" font-weight="bold" textLength="38.16" lengthAdjust="spacingAndGlyphs">Ca</text>
<text x="848.06" y="130" font-size="24.4" font-weight="bold" textLength="24.52" lengthAdjust="spacingAndGlyphs">2+</text>
<text x="872.58" y="142" font-size="37.3" font-weight="bold" textLength="84.67" lengthAdjust="spacingAndGlyphs">:Urea</text>
<g fill="none" stroke="#000" stroke-width="3.7"><line x1="969.5" x2="997.5" y1="129.2" y2="129.2"/><polyline points="984.3,117 997.3,129.2 984.3,141.4" stroke-linejoin="miter" stroke-miterlimit="10"/></g>
<text x="1056.5" y="142.7" font-size="33.3" textLength="42.67" lengthAdjust="spacingAndGlyphs">0:1</text>
<text x="1305" y="145.8" font-size="33.3" textLength="67.95" lengthAdjust="spacingAndGlyphs">0.5:1</text>
<text x="1568.9" y="146.5" font-size="33.3" textLength="42.67" lengthAdjust="spacingAndGlyphs">1:1</text>
<text x="1823.5" y="146.2" font-size="33.3" textLength="42.67" lengthAdjust="spacingAndGlyphs">2:1</text>
<text x="976.2" y="379.6" font-size="33.3" textLength="202.38" lengthAdjust="spacingAndGlyphs">Individual cells</text>
<text x="1284.8" y="379" font-size="33.3" textLength="108.9" lengthAdjust="spacingAndGlyphs">Clusters</text>
<text x="1547.8" y="379" font-size="33.3" textLength="90.34" lengthAdjust="spacingAndGlyphs">Chains</text>
<text x="1793" y="379" font-size="33.3" textLength="102.75" lengthAdjust="spacingAndGlyphs">Clumps</text>
</svg></body></html>
